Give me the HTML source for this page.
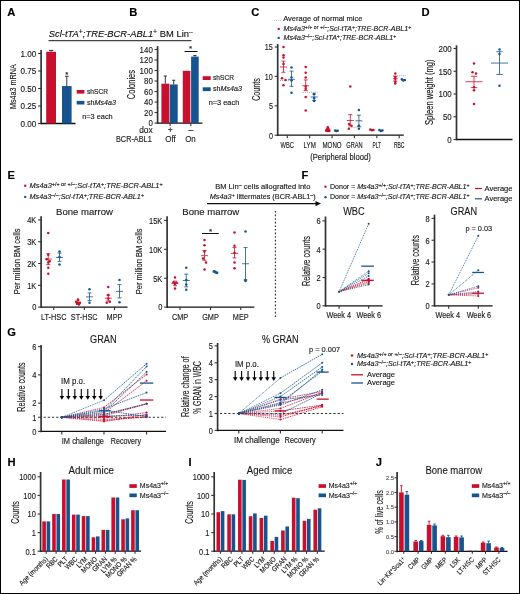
<!DOCTYPE html>
<html><head><meta charset="utf-8"><style>
html,body{margin:0;padding:0;background:#fff;}
svg{display:block;will-change:transform;}
text{font-family:"Liberation Sans", sans-serif;stroke-width:0.14px;}
</style></head><body>
<svg width="520" height="594" viewBox="0 0 520 594" font-family='"Liberation Sans", sans-serif' fill="#1a1a1a">
<rect x="0" y="0" width="520" height="594" fill="#fff"/>
<text x="7.20" y="15.70" font-size="11.2" font-weight="bold" fill="#000" stroke="#000">A</text>
<text x="48.80" y="36.60" font-size="9.9" textLength="144.00" lengthAdjust="spacingAndGlyphs" fill="#111" stroke="#111"><tspan font-style="italic">Scl-tTA</tspan><tspan baseline-shift="42%" font-size="74%">+</tspan><tspan font-style="italic">;TRE-BCR-ABL1</tspan><tspan baseline-shift="42%" font-size="74%">+</tspan> BM Lin<tspan baseline-shift="42%" font-size="74%">–</tspan></text>
<line x1="48.50" y1="40.60" x2="191.50" y2="40.60" stroke="#444" stroke-width="1.2"/>
<line x1="41.10" y1="50.00" x2="41.10" y2="124.35" stroke="#333" stroke-width="1.7"/>
<line x1="38.10" y1="123.50" x2="41.10" y2="123.50" stroke="#333" stroke-width="1.1"/>
<text x="36.20" y="126.80" font-size="8.8" text-anchor="end" textLength="15.76" lengthAdjust="spacingAndGlyphs" stroke="#1a1a1a">0.00</text>
<line x1="38.10" y1="106.00" x2="41.10" y2="106.00" stroke="#333" stroke-width="1.1"/>
<text x="36.20" y="109.30" font-size="8.8" text-anchor="end" textLength="15.76" lengthAdjust="spacingAndGlyphs" stroke="#1a1a1a">0.25</text>
<line x1="38.10" y1="88.50" x2="41.10" y2="88.50" stroke="#333" stroke-width="1.1"/>
<text x="36.20" y="91.80" font-size="8.8" text-anchor="end" textLength="15.76" lengthAdjust="spacingAndGlyphs" stroke="#1a1a1a">0.50</text>
<line x1="38.10" y1="71.00" x2="41.10" y2="71.00" stroke="#333" stroke-width="1.1"/>
<text x="36.20" y="74.30" font-size="8.8" text-anchor="end" textLength="15.76" lengthAdjust="spacingAndGlyphs" stroke="#1a1a1a">0.75</text>
<line x1="38.10" y1="53.50" x2="41.10" y2="53.50" stroke="#333" stroke-width="1.1"/>
<text x="36.20" y="56.80" font-size="8.8" text-anchor="end" textLength="15.76" lengthAdjust="spacingAndGlyphs" stroke="#1a1a1a">1.00</text>
<line x1="41.10" y1="123.50" x2="75.50" y2="123.50" stroke="#111" stroke-width="1.3"/>
<rect x="46.20" y="51.75" width="9.80" height="71.75" fill="#c8102e"/>
<line x1="51.10" y1="50.35" x2="51.10" y2="51.75" stroke="#333" stroke-width="1"/>
<line x1="48.90" y1="50.35" x2="53.30" y2="50.35" stroke="#333" stroke-width="1"/>
<rect x="62.00" y="86.05" width="9.60" height="37.45" fill="#17548f"/>
<line x1="66.80" y1="76.25" x2="66.80" y2="86.05" stroke="#333" stroke-width="1"/>
<line x1="65.00" y1="76.25" x2="68.60" y2="76.25" stroke="#333" stroke-width="1"/>
<text x="66.80" y="76.60" font-size="8" text-anchor="middle" stroke="#1a1a1a">*</text>
<rect x="76.70" y="90.00" width="7.70" height="3.60" fill="#c8102e"/>
<text x="87.00" y="93.80" font-size="6.8" textLength="21.10" lengthAdjust="spacingAndGlyphs" stroke="#1a1a1a">shSCR</text>
<rect x="76.70" y="100.90" width="7.70" height="3.60" fill="#17548f"/>
<text x="87.00" y="104.70" font-size="6.8" textLength="29.00" lengthAdjust="spacingAndGlyphs" stroke="#1a1a1a">sh<tspan font-style="italic">Ms4a3</tspan></text>
<text x="82.20" y="118.80" font-size="6.8" textLength="30.50" lengthAdjust="spacingAndGlyphs" stroke="#1a1a1a">n=3 each</text>
<text x="15.60" y="86.60" font-size="9.4" text-anchor="middle" textLength="44.80" lengthAdjust="spacingAndGlyphs" stroke="#1a1a1a" transform="rotate(-90 15.60 86.60)">Ms4a3 mRNA</text>
<text x="129.30" y="15.70" font-size="11.2" font-weight="bold" fill="#000" stroke="#000">B</text>
<line x1="157.60" y1="46.10" x2="157.60" y2="123.95" stroke="#333" stroke-width="1.7"/>
<line x1="154.60" y1="123.10" x2="157.60" y2="123.10" stroke="#333" stroke-width="1.1"/>
<text x="152.80" y="126.40" font-size="8.8" text-anchor="end" textLength="4.40" lengthAdjust="spacingAndGlyphs" stroke="#1a1a1a">0</text>
<line x1="154.60" y1="112.59" x2="157.60" y2="112.59" stroke="#333" stroke-width="1.1"/>
<text x="152.80" y="115.89" font-size="8.8" text-anchor="end" textLength="8.81" lengthAdjust="spacingAndGlyphs" stroke="#1a1a1a">20</text>
<line x1="154.60" y1="102.07" x2="157.60" y2="102.07" stroke="#333" stroke-width="1.1"/>
<text x="152.80" y="105.37" font-size="8.8" text-anchor="end" textLength="8.81" lengthAdjust="spacingAndGlyphs" stroke="#1a1a1a">40</text>
<line x1="154.60" y1="91.56" x2="157.60" y2="91.56" stroke="#333" stroke-width="1.1"/>
<text x="152.80" y="94.86" font-size="8.8" text-anchor="end" textLength="8.81" lengthAdjust="spacingAndGlyphs" stroke="#1a1a1a">60</text>
<line x1="154.60" y1="81.04" x2="157.60" y2="81.04" stroke="#333" stroke-width="1.1"/>
<text x="152.80" y="84.34" font-size="8.8" text-anchor="end" textLength="8.81" lengthAdjust="spacingAndGlyphs" stroke="#1a1a1a">80</text>
<line x1="154.60" y1="70.53" x2="157.60" y2="70.53" stroke="#333" stroke-width="1.1"/>
<text x="152.80" y="73.83" font-size="8.8" text-anchor="end" textLength="13.21" lengthAdjust="spacingAndGlyphs" stroke="#1a1a1a">100</text>
<line x1="154.60" y1="60.02" x2="157.60" y2="60.02" stroke="#333" stroke-width="1.1"/>
<text x="152.80" y="63.32" font-size="8.8" text-anchor="end" textLength="13.21" lengthAdjust="spacingAndGlyphs" stroke="#1a1a1a">120</text>
<line x1="154.60" y1="49.50" x2="157.60" y2="49.50" stroke="#333" stroke-width="1.1"/>
<text x="152.80" y="52.80" font-size="8.8" text-anchor="end" textLength="13.21" lengthAdjust="spacingAndGlyphs" stroke="#1a1a1a">140</text>
<line x1="157.60" y1="123.10" x2="202.40" y2="123.10" stroke="#111" stroke-width="1.3"/>
<line x1="170.10" y1="123.10" x2="170.10" y2="126.10" stroke="#333" stroke-width="1.1"/>
<line x1="190.80" y1="123.10" x2="190.80" y2="126.10" stroke="#333" stroke-width="1.1"/>
<rect x="161.40" y="83.67" width="7.90" height="39.43" fill="#c8102e"/>
<line x1="165.30" y1="76.05" x2="165.30" y2="83.67" stroke="#333" stroke-width="1"/>
<line x1="163.70" y1="76.05" x2="166.90" y2="76.05" stroke="#333" stroke-width="1"/>
<rect x="169.80" y="84.46" width="7.90" height="38.64" fill="#17548f"/>
<line x1="173.70" y1="80.26" x2="173.70" y2="84.46" stroke="#333" stroke-width="1"/>
<line x1="172.10" y1="80.26" x2="175.30" y2="80.26" stroke="#333" stroke-width="1"/>
<rect x="182.80" y="70.79" width="7.60" height="52.31" fill="#c8102e"/>
<rect x="191.10" y="56.60" width="7.60" height="66.50" fill="#17548f"/>
<line x1="194.90" y1="55.55" x2="194.90" y2="56.60" stroke="#333" stroke-width="1"/>
<line x1="193.30" y1="55.55" x2="196.50" y2="55.55" stroke="#333" stroke-width="1"/>
<line x1="184.50" y1="51.50" x2="197.50" y2="51.50" stroke="#111" stroke-width="1"/>
<text x="190.50" y="51.20" font-size="8" text-anchor="middle" stroke="#1a1a1a">*</text>
<rect x="202.70" y="76.20" width="8.00" height="3.80" fill="#c8102e"/>
<text x="213.00" y="80.00" font-size="6.8" textLength="21.10" lengthAdjust="spacingAndGlyphs" stroke="#1a1a1a">shSCR</text>
<rect x="202.70" y="87.30" width="8.00" height="3.80" fill="#17548f"/>
<text x="213.00" y="90.80" font-size="6.8" textLength="29.00" lengthAdjust="spacingAndGlyphs" stroke="#1a1a1a">sh<tspan font-style="italic">Ms4a3</tspan></text>
<text x="208.70" y="104.80" font-size="6.8" textLength="30.60" lengthAdjust="spacingAndGlyphs" stroke="#1a1a1a">n=3 each</text>
<text x="135.40" y="84.60" font-size="10.5" text-anchor="middle" textLength="29.10" lengthAdjust="spacingAndGlyphs" stroke="#1a1a1a" transform="rotate(-90 135.40 84.60)">Colonies</text>
<text x="152.70" y="132.60" font-size="8.6" text-anchor="end" textLength="13.50" lengthAdjust="spacingAndGlyphs" stroke="#1a1a1a">dox</text>
<text x="170.20" y="132.60" font-size="8.6" text-anchor="middle" stroke="#1a1a1a">+</text>
<text x="190.80" y="132.60" font-size="8.6" text-anchor="middle" stroke="#1a1a1a">–</text>
<text x="151.70" y="142.30" font-size="8.4" text-anchor="end" textLength="35.70" lengthAdjust="spacingAndGlyphs" stroke="#1a1a1a">BCR-ABL1</text>
<text x="170.50" y="142.30" font-size="8.6" text-anchor="middle" textLength="10.50" lengthAdjust="spacingAndGlyphs" stroke="#1a1a1a">Off</text>
<text x="190.50" y="142.30" font-size="8.6" text-anchor="middle" textLength="10.50" lengthAdjust="spacingAndGlyphs" stroke="#1a1a1a">On</text>
<text x="251.30" y="15.70" font-size="11.2" font-weight="bold" fill="#000" stroke="#000">C</text>
<circle cx="274.30" cy="20.20" r="0.45" fill="#777"/>
<circle cx="276.30" cy="20.20" r="0.45" fill="#777"/>
<circle cx="278.30" cy="20.20" r="0.45" fill="#777"/>
<circle cx="280.30" cy="20.20" r="0.45" fill="#777"/>
<text x="283.20" y="21.20" font-size="7.4" textLength="79.30" lengthAdjust="spacingAndGlyphs" stroke="#1a1a1a">Average of normal mice</text>
<circle cx="278.70" cy="28.90" r="1.2" fill="#c8102e"/>
<text x="283.60" y="30.70" font-size="7.3" textLength="127.60" lengthAdjust="spacingAndGlyphs" stroke="#1a1a1a"><tspan font-style="italic">Ms4a3</tspan><tspan baseline-shift="42%" font-size="74%">+/+ or +/–</tspan><tspan font-style="italic">;Scl-tTA</tspan><tspan baseline-shift="42%" font-size="74%">+</tspan><tspan font-style="italic">;TRE-BCR-ABL1</tspan><tspan baseline-shift="42%" font-size="74%">+</tspan></text>
<circle cx="278.70" cy="37.90" r="1.2" fill="#17548f"/>
<text x="283.60" y="39.60" font-size="7.3" textLength="112.60" lengthAdjust="spacingAndGlyphs" stroke="#1a1a1a"><tspan font-style="italic">Ms4a3</tspan><tspan baseline-shift="42%" font-size="74%">–/–</tspan><tspan font-style="italic">;Scl-tTA</tspan><tspan baseline-shift="42%" font-size="74%">+</tspan><tspan font-style="italic">;TRE-BCR-ABL1</tspan><tspan baseline-shift="42%" font-size="74%">+</tspan></text>
<line x1="277.70" y1="44.00" x2="277.70" y2="136.05" stroke="#333" stroke-width="1.7"/>
<line x1="274.70" y1="135.20" x2="277.70" y2="135.20" stroke="#333" stroke-width="1.1"/>
<text x="272.90" y="138.50" font-size="8.8" text-anchor="end" textLength="4.01" lengthAdjust="spacingAndGlyphs" stroke="#1a1a1a">0</text>
<line x1="274.70" y1="105.80" x2="277.70" y2="105.80" stroke="#333" stroke-width="1.1"/>
<text x="272.90" y="109.10" font-size="8.8" text-anchor="end" textLength="4.01" lengthAdjust="spacingAndGlyphs" stroke="#1a1a1a">5</text>
<line x1="274.70" y1="76.40" x2="277.70" y2="76.40" stroke="#333" stroke-width="1.1"/>
<text x="272.90" y="79.70" font-size="8.8" text-anchor="end" textLength="8.03" lengthAdjust="spacingAndGlyphs" stroke="#1a1a1a">10</text>
<line x1="274.70" y1="47.00" x2="277.70" y2="47.00" stroke="#333" stroke-width="1.1"/>
<text x="272.90" y="50.30" font-size="8.8" text-anchor="end" textLength="8.03" lengthAdjust="spacingAndGlyphs" stroke="#1a1a1a">15</text>
<line x1="277.70" y1="135.20" x2="403.80" y2="135.20" stroke="#111" stroke-width="1.3"/>
<line x1="287.30" y1="135.20" x2="287.30" y2="138.20" stroke="#333" stroke-width="1.1"/>
<line x1="309.68" y1="135.20" x2="309.68" y2="138.20" stroke="#333" stroke-width="1.1"/>
<line x1="332.06" y1="135.20" x2="332.06" y2="138.20" stroke="#333" stroke-width="1.1"/>
<line x1="354.44" y1="135.20" x2="354.44" y2="138.20" stroke="#333" stroke-width="1.1"/>
<line x1="376.82" y1="135.20" x2="376.82" y2="138.20" stroke="#333" stroke-width="1.1"/>
<line x1="399.20" y1="135.20" x2="399.20" y2="138.20" stroke="#333" stroke-width="1.1"/>
<text x="287.30" y="147.70" font-size="8.4" text-anchor="middle" textLength="13.40" lengthAdjust="spacingAndGlyphs" stroke="#1a1a1a">WBC</text>
<text x="309.68" y="147.70" font-size="8.4" text-anchor="middle" textLength="12.20" lengthAdjust="spacingAndGlyphs" stroke="#1a1a1a">LYM</text>
<text x="332.06" y="147.70" font-size="8.4" text-anchor="middle" textLength="19.10" lengthAdjust="spacingAndGlyphs" stroke="#1a1a1a">MONO</text>
<text x="354.44" y="147.70" font-size="8.4" text-anchor="middle" textLength="16.50" lengthAdjust="spacingAndGlyphs" stroke="#1a1a1a">GRAN</text>
<text x="376.82" y="147.70" font-size="8.4" text-anchor="middle" textLength="8.50" lengthAdjust="spacingAndGlyphs" stroke="#1a1a1a">PLT</text>
<text x="399.20" y="147.70" font-size="8.4" text-anchor="middle" textLength="10.60" lengthAdjust="spacingAndGlyphs" stroke="#1a1a1a">RBC</text>
<text x="259.60" y="89.50" font-size="10" text-anchor="middle" textLength="22.70" lengthAdjust="spacingAndGlyphs" stroke="#1a1a1a" transform="rotate(-90 259.60 89.50)">Counts</text>
<text x="340.50" y="159.50" font-size="8.4" text-anchor="middle" textLength="60.70" lengthAdjust="spacingAndGlyphs" stroke="#1a1a1a">(Peripheral blood)</text>
<line x1="280.00" y1="80.52" x2="293.60" y2="80.52" stroke="#999" stroke-width="0.9" stroke-dasharray="1,1"/>
<line x1="302.80" y1="92.28" x2="317.60" y2="92.28" stroke="#999" stroke-width="0.9" stroke-dasharray="1,1"/>
<line x1="348.50" y1="127.26" x2="361.50" y2="127.26" stroke="#999" stroke-width="0.9" stroke-dasharray="1,1"/>
<line x1="392.70" y1="75.81" x2="406.50" y2="75.81" stroke="#999" stroke-width="0.9" stroke-dasharray="1,1"/>
<circle cx="283.50" cy="47.00" r="1.25" fill="#c8102e"/>
<circle cx="283.50" cy="55.23" r="1.25" fill="#c8102e"/>
<circle cx="283.50" cy="57.58" r="1.25" fill="#c8102e"/>
<circle cx="283.50" cy="64.05" r="1.25" fill="#c8102e"/>
<circle cx="282.00" cy="78.16" r="1.25" fill="#c8102e"/>
<circle cx="285.50" cy="79.93" r="1.25" fill="#c8102e"/>
<circle cx="283.50" cy="85.22" r="1.25" fill="#c8102e"/>
<line x1="280.00" y1="66.99" x2="287.00" y2="66.99" stroke="#c8102e" stroke-width="0.8"/>
<line x1="283.50" y1="61.11" x2="283.50" y2="72.28" stroke="#c8102e" stroke-width="0.8"/>
<line x1="281.50" y1="61.11" x2="285.50" y2="61.11" stroke="#c8102e" stroke-width="0.8"/>
<line x1="281.50" y1="72.28" x2="285.50" y2="72.28" stroke="#c8102e" stroke-width="0.8"/>
<circle cx="291.50" cy="67.58" r="1.25" fill="#17548f"/>
<circle cx="291.50" cy="77.58" r="1.25" fill="#17548f"/>
<circle cx="291.50" cy="80.52" r="1.25" fill="#17548f"/>
<circle cx="291.50" cy="92.86" r="1.25" fill="#17548f"/>
<line x1="288.00" y1="79.34" x2="295.00" y2="79.34" stroke="#17548f" stroke-width="0.8"/>
<line x1="291.50" y1="71.11" x2="291.50" y2="86.40" stroke="#17548f" stroke-width="0.8"/>
<line x1="289.50" y1="71.11" x2="293.50" y2="71.11" stroke="#17548f" stroke-width="0.8"/>
<line x1="289.50" y1="86.40" x2="293.50" y2="86.40" stroke="#17548f" stroke-width="0.8"/>
<circle cx="305.70" cy="66.99" r="1.25" fill="#c8102e"/>
<circle cx="305.70" cy="72.87" r="1.25" fill="#c8102e"/>
<circle cx="305.70" cy="77.58" r="1.25" fill="#c8102e"/>
<circle cx="305.70" cy="86.40" r="1.25" fill="#c8102e"/>
<circle cx="305.70" cy="88.75" r="1.25" fill="#c8102e"/>
<circle cx="305.70" cy="96.98" r="1.25" fill="#c8102e"/>
<circle cx="305.70" cy="110.50" r="1.25" fill="#c8102e"/>
<line x1="302.20" y1="85.81" x2="309.20" y2="85.81" stroke="#c8102e" stroke-width="0.8"/>
<line x1="305.70" y1="79.93" x2="305.70" y2="90.51" stroke="#c8102e" stroke-width="0.8"/>
<line x1="303.70" y1="79.93" x2="307.70" y2="79.93" stroke="#c8102e" stroke-width="0.8"/>
<line x1="303.70" y1="90.51" x2="307.70" y2="90.51" stroke="#c8102e" stroke-width="0.8"/>
<circle cx="314.10" cy="94.04" r="1.25" fill="#17548f"/>
<circle cx="314.10" cy="98.16" r="1.25" fill="#17548f"/>
<circle cx="314.10" cy="101.10" r="1.25" fill="#17548f"/>
<line x1="310.60" y1="96.98" x2="317.60" y2="96.98" stroke="#17548f" stroke-width="0.8"/>
<line x1="314.10" y1="94.04" x2="314.10" y2="100.51" stroke="#17548f" stroke-width="0.8"/>
<line x1="312.10" y1="94.04" x2="316.10" y2="94.04" stroke="#17548f" stroke-width="0.8"/>
<line x1="312.10" y1="100.51" x2="316.10" y2="100.51" stroke="#17548f" stroke-width="0.8"/>
<circle cx="327.80" cy="127.26" r="1.25" fill="#c8102e"/>
<circle cx="327.00" cy="129.32" r="1.25" fill="#c8102e"/>
<circle cx="326.20" cy="130.79" r="1.25" fill="#c8102e"/>
<circle cx="327.80" cy="131.08" r="1.25" fill="#c8102e"/>
<circle cx="329.40" cy="130.97" r="1.25" fill="#c8102e"/>
<circle cx="328.60" cy="129.32" r="1.25" fill="#c8102e"/>
<line x1="325.30" y1="130.20" x2="330.30" y2="130.20" stroke="#c8102e" stroke-width="0.8"/>
<circle cx="335.20" cy="130.50" r="1.25" fill="#17548f"/>
<circle cx="336.40" cy="131.08" r="1.25" fill="#17548f"/>
<circle cx="337.60" cy="130.79" r="1.25" fill="#17548f"/>
<line x1="333.90" y1="130.79" x2="338.90" y2="130.79" stroke="#17548f" stroke-width="0.8"/>
<circle cx="350.30" cy="86.40" r="1.25" fill="#c8102e"/>
<circle cx="349.10" cy="124.03" r="1.25" fill="#c8102e"/>
<circle cx="351.50" cy="125.79" r="1.25" fill="#c8102e"/>
<circle cx="348.80" cy="128.73" r="1.25" fill="#c8102e"/>
<line x1="346.80" y1="120.50" x2="353.80" y2="120.50" stroke="#c8102e" stroke-width="0.8"/>
<line x1="350.30" y1="114.62" x2="350.30" y2="125.79" stroke="#c8102e" stroke-width="0.8"/>
<line x1="348.30" y1="114.62" x2="352.30" y2="114.62" stroke="#c8102e" stroke-width="0.8"/>
<line x1="348.30" y1="125.79" x2="352.30" y2="125.79" stroke="#c8102e" stroke-width="0.8"/>
<circle cx="358.90" cy="109.92" r="1.25" fill="#17548f"/>
<circle cx="358.90" cy="125.79" r="1.25" fill="#17548f"/>
<circle cx="358.90" cy="128.73" r="1.25" fill="#17548f"/>
<line x1="355.40" y1="120.79" x2="362.40" y2="120.79" stroke="#17548f" stroke-width="0.8"/>
<line x1="358.90" y1="115.21" x2="358.90" y2="126.38" stroke="#17548f" stroke-width="0.8"/>
<line x1="356.90" y1="115.21" x2="360.90" y2="115.21" stroke="#17548f" stroke-width="0.8"/>
<line x1="356.90" y1="126.38" x2="360.90" y2="126.38" stroke="#17548f" stroke-width="0.8"/>
<circle cx="370.40" cy="129.61" r="1.25" fill="#c8102e"/>
<circle cx="371.90" cy="130.20" r="1.25" fill="#c8102e"/>
<circle cx="373.40" cy="129.91" r="1.25" fill="#c8102e"/>
<line x1="369.40" y1="129.91" x2="374.40" y2="129.91" stroke="#c8102e" stroke-width="0.8"/>
<circle cx="379.40" cy="129.91" r="1.25" fill="#17548f"/>
<circle cx="380.90" cy="131.08" r="1.25" fill="#17548f"/>
<circle cx="382.40" cy="130.50" r="1.25" fill="#17548f"/>
<line x1="378.40" y1="130.20" x2="383.40" y2="130.20" stroke="#17548f" stroke-width="0.8"/>
<circle cx="395.30" cy="73.46" r="1.25" fill="#c8102e"/>
<circle cx="395.30" cy="76.99" r="1.25" fill="#c8102e"/>
<circle cx="395.30" cy="78.75" r="1.25" fill="#c8102e"/>
<circle cx="395.30" cy="81.69" r="1.25" fill="#c8102e"/>
<circle cx="395.30" cy="83.46" r="1.25" fill="#c8102e"/>
<line x1="392.80" y1="78.75" x2="397.80" y2="78.75" stroke="#c8102e" stroke-width="0.8"/>
<line x1="395.30" y1="76.40" x2="395.30" y2="81.10" stroke="#c8102e" stroke-width="0.8"/>
<line x1="393.30" y1="76.40" x2="397.30" y2="76.40" stroke="#c8102e" stroke-width="0.8"/>
<line x1="393.30" y1="81.10" x2="397.30" y2="81.10" stroke="#c8102e" stroke-width="0.8"/>
<circle cx="401.90" cy="79.34" r="1.25" fill="#17548f"/>
<circle cx="403.40" cy="80.52" r="1.25" fill="#17548f"/>
<circle cx="404.90" cy="79.93" r="1.25" fill="#17548f"/>
<line x1="400.90" y1="79.93" x2="405.90" y2="79.93" stroke="#17548f" stroke-width="0.8"/>
<text x="421.50" y="15.70" font-size="11.2" font-weight="bold" fill="#000" stroke="#000">D</text>
<line x1="456.50" y1="45.30" x2="456.50" y2="140.35" stroke="#333" stroke-width="1.7"/>
<line x1="453.50" y1="139.50" x2="456.50" y2="139.50" stroke="#333" stroke-width="1.1"/>
<text x="451.70" y="142.80" font-size="8.8" text-anchor="end" textLength="4.40" lengthAdjust="spacingAndGlyphs" stroke="#1a1a1a">0</text>
<line x1="453.50" y1="116.75" x2="456.50" y2="116.75" stroke="#333" stroke-width="1.1"/>
<text x="451.70" y="120.05" font-size="8.8" text-anchor="end" textLength="8.81" lengthAdjust="spacingAndGlyphs" stroke="#1a1a1a">50</text>
<line x1="453.50" y1="94.00" x2="456.50" y2="94.00" stroke="#333" stroke-width="1.1"/>
<text x="451.70" y="97.30" font-size="8.8" text-anchor="end" textLength="13.21" lengthAdjust="spacingAndGlyphs" stroke="#1a1a1a">100</text>
<line x1="453.50" y1="71.25" x2="456.50" y2="71.25" stroke="#333" stroke-width="1.1"/>
<text x="451.70" y="74.55" font-size="8.8" text-anchor="end" textLength="13.21" lengthAdjust="spacingAndGlyphs" stroke="#1a1a1a">150</text>
<line x1="453.50" y1="48.50" x2="456.50" y2="48.50" stroke="#333" stroke-width="1.1"/>
<text x="451.70" y="51.80" font-size="8.8" text-anchor="end" textLength="13.21" lengthAdjust="spacingAndGlyphs" stroke="#1a1a1a">200</text>
<line x1="456.50" y1="139.50" x2="512.50" y2="139.50" stroke="#111" stroke-width="1.3"/>
<circle cx="474.00" cy="63.52" r="1.25" fill="#c8102e"/>
<circle cx="472.50" cy="72.16" r="1.25" fill="#c8102e"/>
<circle cx="476.00" cy="73.52" r="1.25" fill="#c8102e"/>
<circle cx="474.00" cy="87.17" r="1.25" fill="#c8102e"/>
<circle cx="474.00" cy="90.36" r="1.25" fill="#c8102e"/>
<circle cx="474.00" cy="104.01" r="1.25" fill="#c8102e"/>
<line x1="465.50" y1="81.72" x2="482.50" y2="81.72" stroke="#c8102e" stroke-width="0.8"/>
<line x1="474.00" y1="76.25" x2="474.00" y2="87.63" stroke="#c8102e" stroke-width="0.8"/>
<line x1="470.80" y1="76.25" x2="477.20" y2="76.25" stroke="#c8102e" stroke-width="0.8"/>
<line x1="470.80" y1="87.63" x2="477.20" y2="87.63" stroke="#c8102e" stroke-width="0.8"/>
<circle cx="499.50" cy="49.41" r="1.25" fill="#17548f"/>
<circle cx="499.50" cy="53.96" r="1.25" fill="#17548f"/>
<circle cx="499.50" cy="85.81" r="1.25" fill="#17548f"/>
<line x1="491.00" y1="63.06" x2="508.00" y2="63.06" stroke="#17548f" stroke-width="0.8"/>
<line x1="499.50" y1="51.69" x2="499.50" y2="74.44" stroke="#17548f" stroke-width="0.8"/>
<line x1="496.30" y1="51.69" x2="502.70" y2="51.69" stroke="#17548f" stroke-width="0.8"/>
<line x1="496.30" y1="74.44" x2="502.70" y2="74.44" stroke="#17548f" stroke-width="0.8"/>
<text x="433.40" y="92.20" font-size="10" text-anchor="middle" textLength="65.50" lengthAdjust="spacingAndGlyphs" stroke="#1a1a1a" transform="rotate(-90 433.40 92.20)">Spleen weight (mg)</text>
<text x="7.50" y="179.40" font-size="11.2" font-weight="bold" fill="#000" stroke="#000">E</text>
<circle cx="25.20" cy="185.80" r="1.2" fill="#c8102e"/>
<text x="29.60" y="188.40" font-size="7.3" textLength="133.00" lengthAdjust="spacingAndGlyphs" stroke="#1a1a1a"><tspan font-style="italic">Ms4a3</tspan><tspan baseline-shift="42%" font-size="74%">+/+ or +/–</tspan><tspan font-style="italic">;Scl-tTA</tspan><tspan baseline-shift="42%" font-size="74%">+</tspan><tspan font-style="italic">;TRE-BCR-ABL1</tspan><tspan baseline-shift="42%" font-size="74%">+</tspan></text>
<circle cx="25.20" cy="196.90" r="1.2" fill="#17548f"/>
<text x="29.60" y="199.40" font-size="7.3" textLength="114.40" lengthAdjust="spacingAndGlyphs" stroke="#1a1a1a"><tspan font-style="italic">Ms4a3</tspan><tspan baseline-shift="42%" font-size="74%">–/–</tspan><tspan font-style="italic">;Scl-tTA</tspan><tspan baseline-shift="42%" font-size="74%">+</tspan><tspan font-style="italic">;TRE-BCR-ABL1</tspan><tspan baseline-shift="42%" font-size="74%">+</tspan></text>
<text x="84.50" y="215.00" font-size="9.8" text-anchor="middle" textLength="56.90" lengthAdjust="spacingAndGlyphs" stroke="#1a1a1a">Bone marrow</text>
<text x="210.80" y="215.00" font-size="9.8" text-anchor="middle" textLength="56.90" lengthAdjust="spacingAndGlyphs" stroke="#1a1a1a">Bone marrow</text>
<line x1="41.10" y1="216.30" x2="41.10" y2="307.95" stroke="#333" stroke-width="1.7"/>
<line x1="38.10" y1="307.10" x2="41.10" y2="307.10" stroke="#333" stroke-width="1.1"/>
<text x="36.30" y="310.40" font-size="8.8" text-anchor="end" textLength="4.16" lengthAdjust="spacingAndGlyphs" stroke="#1a1a1a">0</text>
<line x1="38.10" y1="285.30" x2="41.10" y2="285.30" stroke="#333" stroke-width="1.1"/>
<text x="36.30" y="288.60" font-size="8.8" text-anchor="end" textLength="9.15" lengthAdjust="spacingAndGlyphs" stroke="#1a1a1a">1K</text>
<line x1="38.10" y1="263.50" x2="41.10" y2="263.50" stroke="#333" stroke-width="1.1"/>
<text x="36.30" y="266.80" font-size="8.8" text-anchor="end" textLength="9.15" lengthAdjust="spacingAndGlyphs" stroke="#1a1a1a">2K</text>
<line x1="38.10" y1="241.70" x2="41.10" y2="241.70" stroke="#333" stroke-width="1.1"/>
<text x="36.30" y="245.00" font-size="8.8" text-anchor="end" textLength="9.15" lengthAdjust="spacingAndGlyphs" stroke="#1a1a1a">3K</text>
<line x1="38.10" y1="219.90" x2="41.10" y2="219.90" stroke="#333" stroke-width="1.1"/>
<text x="36.30" y="223.20" font-size="8.8" text-anchor="end" textLength="9.15" lengthAdjust="spacingAndGlyphs" stroke="#1a1a1a">4K</text>
<line x1="41.10" y1="307.10" x2="127.50" y2="307.10" stroke="#111" stroke-width="1.3"/>
<line x1="53.75" y1="307.10" x2="53.75" y2="310.10" stroke="#333" stroke-width="1.1"/>
<line x1="84.25" y1="307.10" x2="84.25" y2="310.10" stroke="#333" stroke-width="1.1"/>
<line x1="114.50" y1="307.10" x2="114.50" y2="310.10" stroke="#333" stroke-width="1.1"/>
<text x="53.75" y="319.60" font-size="8.3" text-anchor="middle" textLength="25.43" lengthAdjust="spacingAndGlyphs" stroke="#1a1a1a">LT-HSC</text>
<text x="84.25" y="319.60" font-size="8.3" text-anchor="middle" textLength="26.78" lengthAdjust="spacingAndGlyphs" stroke="#1a1a1a">ST-HSC</text>
<text x="114.50" y="319.60" font-size="8.3" text-anchor="middle" textLength="15.83" lengthAdjust="spacingAndGlyphs" stroke="#1a1a1a">MPP</text>
<text x="20.40" y="261.40" font-size="9.4" text-anchor="middle" textLength="65.60" lengthAdjust="spacingAndGlyphs" stroke="#1a1a1a" transform="rotate(-90 20.40 261.40)">Per million BM cells</text>
<circle cx="48.25" cy="232.98" r="1.25" fill="#c8102e"/>
<circle cx="48.25" cy="254.78" r="1.25" fill="#c8102e"/>
<circle cx="46.75" cy="259.14" r="1.25" fill="#c8102e"/>
<circle cx="49.75" cy="261.32" r="1.25" fill="#c8102e"/>
<circle cx="48.25" cy="262.41" r="1.25" fill="#c8102e"/>
<circle cx="48.25" cy="267.86" r="1.25" fill="#c8102e"/>
<circle cx="48.25" cy="273.75" r="1.25" fill="#c8102e"/>
<line x1="44.75" y1="259.14" x2="51.75" y2="259.14" stroke="#c8102e" stroke-width="0.8"/>
<line x1="48.25" y1="253.69" x2="48.25" y2="264.59" stroke="#c8102e" stroke-width="0.8"/>
<line x1="46.25" y1="253.69" x2="50.25" y2="253.69" stroke="#c8102e" stroke-width="0.8"/>
<line x1="46.25" y1="264.59" x2="50.25" y2="264.59" stroke="#c8102e" stroke-width="0.8"/>
<circle cx="59.50" cy="251.51" r="1.25" fill="#17548f"/>
<circle cx="59.50" cy="256.96" r="1.25" fill="#17548f"/>
<circle cx="59.50" cy="264.59" r="1.25" fill="#17548f"/>
<line x1="56.00" y1="257.40" x2="63.00" y2="257.40" stroke="#17548f" stroke-width="0.8"/>
<line x1="59.50" y1="253.04" x2="59.50" y2="261.32" stroke="#17548f" stroke-width="0.8"/>
<line x1="57.50" y1="253.04" x2="61.50" y2="253.04" stroke="#17548f" stroke-width="0.8"/>
<line x1="57.50" y1="261.32" x2="61.50" y2="261.32" stroke="#17548f" stroke-width="0.8"/>
<circle cx="78.00" cy="299.47" r="1.25" fill="#c8102e"/>
<circle cx="76.00" cy="301.65" r="1.25" fill="#c8102e"/>
<circle cx="80.00" cy="302.74" r="1.25" fill="#c8102e"/>
<circle cx="77.00" cy="303.83" r="1.25" fill="#c8102e"/>
<circle cx="79.00" cy="304.48" r="1.25" fill="#c8102e"/>
<circle cx="78.00" cy="303.18" r="1.25" fill="#c8102e"/>
<circle cx="78.00" cy="300.56" r="1.25" fill="#c8102e"/>
<line x1="75.50" y1="302.74" x2="80.50" y2="302.74" stroke="#c8102e" stroke-width="0.8"/>
<circle cx="89.50" cy="289.22" r="1.25" fill="#17548f"/>
<circle cx="89.50" cy="302.74" r="1.25" fill="#17548f"/>
<line x1="86.00" y1="296.85" x2="93.00" y2="296.85" stroke="#17548f" stroke-width="0.8"/>
<line x1="89.50" y1="292.93" x2="89.50" y2="300.56" stroke="#17548f" stroke-width="0.8"/>
<line x1="87.50" y1="292.93" x2="91.50" y2="292.93" stroke="#17548f" stroke-width="0.8"/>
<line x1="87.50" y1="300.56" x2="91.50" y2="300.56" stroke="#17548f" stroke-width="0.8"/>
<circle cx="108.25" cy="287.04" r="1.25" fill="#c8102e"/>
<circle cx="108.25" cy="295.11" r="1.25" fill="#c8102e"/>
<circle cx="108.25" cy="298.38" r="1.25" fill="#c8102e"/>
<circle cx="106.75" cy="302.74" r="1.25" fill="#c8102e"/>
<circle cx="109.75" cy="301.65" r="1.25" fill="#c8102e"/>
<line x1="104.75" y1="298.16" x2="111.75" y2="298.16" stroke="#c8102e" stroke-width="0.8"/>
<line x1="108.25" y1="295.11" x2="108.25" y2="301.00" stroke="#c8102e" stroke-width="0.8"/>
<line x1="106.25" y1="295.11" x2="110.25" y2="295.11" stroke="#c8102e" stroke-width="0.8"/>
<line x1="106.25" y1="301.00" x2="110.25" y2="301.00" stroke="#c8102e" stroke-width="0.8"/>
<circle cx="119.50" cy="280.07" r="1.25" fill="#17548f"/>
<circle cx="119.50" cy="302.30" r="1.25" fill="#17548f"/>
<line x1="116.00" y1="291.40" x2="123.00" y2="291.40" stroke="#17548f" stroke-width="0.8"/>
<line x1="119.50" y1="284.65" x2="119.50" y2="297.94" stroke="#17548f" stroke-width="0.8"/>
<line x1="117.50" y1="284.65" x2="121.50" y2="284.65" stroke="#17548f" stroke-width="0.8"/>
<line x1="117.50" y1="297.94" x2="121.50" y2="297.94" stroke="#17548f" stroke-width="0.8"/>
<line x1="167.10" y1="216.30" x2="167.10" y2="307.95" stroke="#333" stroke-width="1.7"/>
<line x1="164.10" y1="307.10" x2="167.10" y2="307.10" stroke="#333" stroke-width="1.1"/>
<text x="162.30" y="310.40" font-size="8.8" text-anchor="end" textLength="4.16" lengthAdjust="spacingAndGlyphs" stroke="#1a1a1a">0</text>
<line x1="164.10" y1="278.20" x2="167.10" y2="278.20" stroke="#333" stroke-width="1.1"/>
<text x="162.30" y="281.50" font-size="8.8" text-anchor="end" textLength="9.15" lengthAdjust="spacingAndGlyphs" stroke="#1a1a1a">5K</text>
<line x1="164.10" y1="249.30" x2="167.10" y2="249.30" stroke="#333" stroke-width="1.1"/>
<text x="162.30" y="252.60" font-size="8.8" text-anchor="end" textLength="13.31" lengthAdjust="spacingAndGlyphs" stroke="#1a1a1a">10K</text>
<line x1="164.10" y1="220.40" x2="167.10" y2="220.40" stroke="#333" stroke-width="1.1"/>
<text x="162.30" y="223.70" font-size="8.8" text-anchor="end" textLength="13.31" lengthAdjust="spacingAndGlyphs" stroke="#1a1a1a">15K</text>
<line x1="167.10" y1="307.10" x2="254.30" y2="307.10" stroke="#111" stroke-width="1.3"/>
<line x1="180.00" y1="307.10" x2="180.00" y2="310.10" stroke="#333" stroke-width="1.1"/>
<line x1="210.50" y1="307.10" x2="210.50" y2="310.10" stroke="#333" stroke-width="1.1"/>
<line x1="240.75" y1="307.10" x2="240.75" y2="310.10" stroke="#333" stroke-width="1.1"/>
<text x="180.00" y="319.60" font-size="8.3" text-anchor="middle" textLength="16.23" lengthAdjust="spacingAndGlyphs" stroke="#1a1a1a">CMP</text>
<text x="210.50" y="319.60" font-size="8.3" text-anchor="middle" textLength="16.64" lengthAdjust="spacingAndGlyphs" stroke="#1a1a1a">GMP</text>
<text x="240.75" y="319.60" font-size="8.3" text-anchor="middle" textLength="15.83" lengthAdjust="spacingAndGlyphs" stroke="#1a1a1a">MEP</text>
<text x="142.20" y="261.40" font-size="9.4" text-anchor="middle" textLength="65.60" lengthAdjust="spacingAndGlyphs" stroke="#1a1a1a" transform="rotate(-90 142.20 261.40)">Per million BM cells</text>
<circle cx="175.00" cy="277.62" r="1.25" fill="#c8102e"/>
<circle cx="173.50" cy="282.25" r="1.25" fill="#c8102e"/>
<circle cx="176.50" cy="282.82" r="1.25" fill="#c8102e"/>
<circle cx="175.00" cy="283.98" r="1.25" fill="#c8102e"/>
<circle cx="175.00" cy="288.60" r="1.25" fill="#c8102e"/>
<line x1="171.50" y1="283.40" x2="178.50" y2="283.40" stroke="#c8102e" stroke-width="0.8"/>
<line x1="175.00" y1="281.09" x2="175.00" y2="285.71" stroke="#c8102e" stroke-width="0.8"/>
<line x1="173.00" y1="281.09" x2="177.00" y2="281.09" stroke="#c8102e" stroke-width="0.8"/>
<line x1="173.00" y1="285.71" x2="177.00" y2="285.71" stroke="#c8102e" stroke-width="0.8"/>
<circle cx="186.25" cy="267.80" r="1.25" fill="#17548f"/>
<circle cx="186.25" cy="279.93" r="1.25" fill="#17548f"/>
<circle cx="186.25" cy="284.56" r="1.25" fill="#17548f"/>
<circle cx="186.25" cy="289.76" r="1.25" fill="#17548f"/>
<line x1="182.75" y1="280.51" x2="189.75" y2="280.51" stroke="#17548f" stroke-width="0.8"/>
<line x1="186.25" y1="274.15" x2="186.25" y2="286.87" stroke="#17548f" stroke-width="0.8"/>
<line x1="184.25" y1="274.15" x2="188.25" y2="274.15" stroke="#17548f" stroke-width="0.8"/>
<line x1="184.25" y1="286.87" x2="188.25" y2="286.87" stroke="#17548f" stroke-width="0.8"/>
<circle cx="204.50" cy="240.05" r="1.25" fill="#c8102e"/>
<circle cx="204.50" cy="245.25" r="1.25" fill="#c8102e"/>
<circle cx="204.50" cy="251.61" r="1.25" fill="#c8102e"/>
<circle cx="203.00" cy="258.55" r="1.25" fill="#c8102e"/>
<circle cx="206.00" cy="262.59" r="1.25" fill="#c8102e"/>
<circle cx="204.50" cy="269.53" r="1.25" fill="#c8102e"/>
<line x1="201.00" y1="255.66" x2="208.00" y2="255.66" stroke="#c8102e" stroke-width="0.8"/>
<line x1="204.50" y1="250.46" x2="204.50" y2="260.28" stroke="#c8102e" stroke-width="0.8"/>
<line x1="202.50" y1="250.46" x2="206.50" y2="250.46" stroke="#c8102e" stroke-width="0.8"/>
<line x1="202.50" y1="260.28" x2="206.50" y2="260.28" stroke="#c8102e" stroke-width="0.8"/>
<circle cx="214.00" cy="271.26" r="1.25" fill="#17548f"/>
<circle cx="215.50" cy="272.42" r="1.25" fill="#17548f"/>
<circle cx="217.00" cy="273.00" r="1.25" fill="#17548f"/>
<circle cx="215.50" cy="271.84" r="1.25" fill="#17548f"/>
<line x1="212.50" y1="272.13" x2="218.50" y2="272.13" stroke="#17548f" stroke-width="0.8"/>
<line x1="202.00" y1="233.50" x2="218.80" y2="233.50" stroke="#111" stroke-width="1"/>
<text x="210.50" y="233.80" font-size="8" text-anchor="middle" stroke="#1a1a1a">*</text>
<circle cx="234.50" cy="232.54" r="1.25" fill="#c8102e"/>
<circle cx="234.50" cy="245.83" r="1.25" fill="#c8102e"/>
<circle cx="234.50" cy="252.77" r="1.25" fill="#c8102e"/>
<circle cx="234.50" cy="262.59" r="1.25" fill="#c8102e"/>
<circle cx="234.50" cy="268.37" r="1.25" fill="#c8102e"/>
<line x1="231.00" y1="253.35" x2="238.00" y2="253.35" stroke="#c8102e" stroke-width="0.8"/>
<line x1="234.50" y1="247.57" x2="234.50" y2="257.97" stroke="#c8102e" stroke-width="0.8"/>
<line x1="232.50" y1="247.57" x2="236.50" y2="247.57" stroke="#c8102e" stroke-width="0.8"/>
<line x1="232.50" y1="257.97" x2="236.50" y2="257.97" stroke="#c8102e" stroke-width="0.8"/>
<circle cx="245.50" cy="231.38" r="1.25" fill="#17548f"/>
<circle cx="245.50" cy="279.93" r="1.25" fill="#17548f"/>
<circle cx="245.50" cy="281.09" r="1.25" fill="#17548f"/>
<line x1="242.00" y1="263.75" x2="249.00" y2="263.75" stroke="#17548f" stroke-width="0.8"/>
<line x1="245.50" y1="247.57" x2="245.50" y2="279.93" stroke="#17548f" stroke-width="0.8"/>
<line x1="243.50" y1="247.57" x2="247.50" y2="247.57" stroke="#17548f" stroke-width="0.8"/>
<line x1="243.50" y1="279.93" x2="247.50" y2="279.93" stroke="#17548f" stroke-width="0.8"/>
<text x="301.60" y="179.30" font-size="11.2" font-weight="bold" fill="#000" stroke="#000">F</text>
<text x="262.80" y="189.20" font-size="7.4" text-anchor="middle" textLength="95.20" lengthAdjust="spacingAndGlyphs" stroke="#1a1a1a">BM Lin<tspan baseline-shift="42%" font-size="74%">–</tspan> cells allografted into</text>
<text x="262.80" y="198.70" font-size="7.4" text-anchor="middle" textLength="106.00" lengthAdjust="spacingAndGlyphs" stroke="#1a1a1a"><tspan font-style="italic">Ms4a3</tspan><tspan baseline-shift="42%" font-size="74%">+</tspan> littermates (BCR-ABL1<tspan baseline-shift="42%" font-size="74%">–</tspan>)</text>
<line x1="207.00" y1="203.60" x2="317.00" y2="203.60" stroke="#111" stroke-width="1.1"/>
<path d="M315.5,200.9 L321,203.6 L315.5,206.3 Z" fill="#111"/>
<line x1="275.40" y1="211.00" x2="275.40" y2="317.00" stroke="#222" stroke-width="1.1" stroke-dasharray="1.6,2"/>
<circle cx="325.50" cy="186.70" r="1.2" fill="#c8102e"/>
<text x="330.00" y="188.90" font-size="7.3" textLength="139.50" lengthAdjust="spacingAndGlyphs" stroke="#1a1a1a">Donor = <tspan font-style="italic">Ms4a3</tspan><tspan baseline-shift="42%" font-size="74%">+/+</tspan><tspan font-style="italic">;Scl-tTA</tspan><tspan baseline-shift="42%" font-size="74%">+</tspan><tspan font-style="italic">;TRE-BCR-ABL1</tspan><tspan baseline-shift="42%" font-size="74%">+</tspan></text>
<circle cx="325.50" cy="197.20" r="1.2" fill="#17548f"/>
<text x="330.00" y="199.40" font-size="7.3" textLength="139.50" lengthAdjust="spacingAndGlyphs" stroke="#1a1a1a">Donor = <tspan font-style="italic">Ms4a3</tspan><tspan baseline-shift="42%" font-size="74%">–/–</tspan><tspan font-style="italic">;Scl-tTA</tspan><tspan baseline-shift="42%" font-size="74%">+</tspan><tspan font-style="italic">;TRE-BCR-ABL1</tspan><tspan baseline-shift="42%" font-size="74%">+</tspan></text>
<line x1="475.00" y1="188.50" x2="482.00" y2="188.50" stroke="#c8102e" stroke-width="1.2"/>
<text x="484.50" y="190.90" font-size="7.4" textLength="28.00" lengthAdjust="spacingAndGlyphs" stroke="#1a1a1a">Average</text>
<line x1="475.00" y1="198.80" x2="482.00" y2="198.80" stroke="#17548f" stroke-width="1.2"/>
<text x="484.50" y="201.20" font-size="7.4" textLength="28.00" lengthAdjust="spacingAndGlyphs" stroke="#1a1a1a">Average</text>
<text x="353.90" y="215.20" font-size="10.6" text-anchor="middle" textLength="21.50" lengthAdjust="spacingAndGlyphs" stroke="#1a1a1a">WBC</text>
<text x="463.80" y="215.20" font-size="10.6" text-anchor="middle" textLength="26.50" lengthAdjust="spacingAndGlyphs" stroke="#1a1a1a">GRAN</text>
<line x1="325.50" y1="216.50" x2="325.50" y2="306.65" stroke="#333" stroke-width="1.7"/>
<line x1="322.50" y1="305.80" x2="325.50" y2="305.80" stroke="#333" stroke-width="1.1"/>
<text x="320.70" y="309.10" font-size="8.8" text-anchor="end" textLength="4.16" lengthAdjust="spacingAndGlyphs" stroke="#1a1a1a">0</text>
<line x1="322.50" y1="277.50" x2="325.50" y2="277.50" stroke="#333" stroke-width="1.1"/>
<text x="320.70" y="280.80" font-size="8.8" text-anchor="end" textLength="4.16" lengthAdjust="spacingAndGlyphs" stroke="#1a1a1a">2</text>
<line x1="322.50" y1="249.20" x2="325.50" y2="249.20" stroke="#333" stroke-width="1.1"/>
<text x="320.70" y="252.50" font-size="8.8" text-anchor="end" textLength="4.16" lengthAdjust="spacingAndGlyphs" stroke="#1a1a1a">4</text>
<line x1="322.50" y1="220.90" x2="325.50" y2="220.90" stroke="#333" stroke-width="1.1"/>
<text x="320.70" y="224.20" font-size="8.8" text-anchor="end" textLength="4.16" lengthAdjust="spacingAndGlyphs" stroke="#1a1a1a">6</text>
<line x1="325.50" y1="305.80" x2="382.60" y2="305.80" stroke="#111" stroke-width="1.3"/>
<line x1="339.10" y1="305.80" x2="339.10" y2="308.80" stroke="#333" stroke-width="1.1"/>
<line x1="368.70" y1="305.80" x2="368.70" y2="308.80" stroke="#333" stroke-width="1.1"/>
<text x="338.70" y="318.00" font-size="8.2" text-anchor="middle" textLength="24.50" lengthAdjust="spacingAndGlyphs" stroke="#1a1a1a">Week 4</text>
<text x="368.70" y="318.00" font-size="8.2" text-anchor="middle" textLength="24.50" lengthAdjust="spacingAndGlyphs" stroke="#1a1a1a">Week 6</text>
<text x="310.20" y="261.00" font-size="10" text-anchor="middle" textLength="50.00" lengthAdjust="spacingAndGlyphs" stroke="#1a1a1a" transform="rotate(-90 310.20 261.00)">Relative counts</text>
<polyline points="339.10,291.65 368.70,283.16" fill="none" stroke="#c8102e" stroke-width="0.8" stroke-dasharray="1,0.9"/>
<polyline points="339.10,291.65 368.70,281.75" fill="none" stroke="#c8102e" stroke-width="0.8" stroke-dasharray="1,0.9"/>
<polyline points="339.10,291.65 368.70,280.33" fill="none" stroke="#c8102e" stroke-width="0.8" stroke-dasharray="1,0.9"/>
<polyline points="339.10,291.65 368.70,278.92" fill="none" stroke="#c8102e" stroke-width="0.8" stroke-dasharray="1,0.9"/>
<circle cx="368.70" cy="283.16" r="1.0" fill="#c8102e"/>
<circle cx="368.70" cy="281.75" r="1.0" fill="#c8102e"/>
<circle cx="368.70" cy="280.33" r="1.0" fill="#c8102e"/>
<circle cx="368.70" cy="278.92" r="1.0" fill="#c8102e"/>
<circle cx="339.10" cy="291.65" r="1.0" fill="#c8102e"/>
<polyline points="339.10,291.65 368.70,223.73" fill="none" stroke="#17548f" stroke-width="0.8" stroke-dasharray="1,0.9"/>
<polyline points="339.10,291.65 368.70,271.13" fill="none" stroke="#17548f" stroke-width="0.8" stroke-dasharray="1,0.9"/>
<polyline points="339.10,291.65 368.70,273.25" fill="none" stroke="#17548f" stroke-width="0.8" stroke-dasharray="1,0.9"/>
<polyline points="339.10,291.65 368.70,276.09" fill="none" stroke="#17548f" stroke-width="0.8" stroke-dasharray="1,0.9"/>
<polyline points="339.10,291.65 368.70,284.57" fill="none" stroke="#17548f" stroke-width="0.8" stroke-dasharray="1,0.9"/>
<circle cx="368.70" cy="223.73" r="1.0" fill="#17548f"/>
<circle cx="368.70" cy="271.13" r="1.0" fill="#17548f"/>
<circle cx="368.70" cy="273.25" r="1.0" fill="#17548f"/>
<circle cx="368.70" cy="276.09" r="1.0" fill="#17548f"/>
<circle cx="368.70" cy="284.57" r="1.0" fill="#17548f"/>
<circle cx="339.10" cy="291.65" r="1.0" fill="#17548f"/>
<line x1="361.30" y1="266.18" x2="373.90" y2="266.18" stroke="#17548f" stroke-width="1.3"/>
<line x1="361.30" y1="280.33" x2="373.90" y2="280.33" stroke="#c8102e" stroke-width="1.3"/>
<line x1="368.70" y1="282.45" x2="368.70" y2="278.21" stroke="#c8102e" stroke-width="1.8"/>
<line x1="434.50" y1="214.60" x2="434.50" y2="306.65" stroke="#333" stroke-width="1.7"/>
<line x1="431.50" y1="305.80" x2="434.50" y2="305.80" stroke="#333" stroke-width="1.1"/>
<text x="429.70" y="309.10" font-size="8.8" text-anchor="end" textLength="4.16" lengthAdjust="spacingAndGlyphs" stroke="#1a1a1a">0</text>
<line x1="431.50" y1="283.94" x2="434.50" y2="283.94" stroke="#333" stroke-width="1.1"/>
<text x="429.70" y="287.24" font-size="8.8" text-anchor="end" textLength="4.16" lengthAdjust="spacingAndGlyphs" stroke="#1a1a1a">2</text>
<line x1="431.50" y1="262.08" x2="434.50" y2="262.08" stroke="#333" stroke-width="1.1"/>
<text x="429.70" y="265.38" font-size="8.8" text-anchor="end" textLength="4.16" lengthAdjust="spacingAndGlyphs" stroke="#1a1a1a">4</text>
<line x1="431.50" y1="240.22" x2="434.50" y2="240.22" stroke="#333" stroke-width="1.1"/>
<text x="429.70" y="243.52" font-size="8.8" text-anchor="end" textLength="4.16" lengthAdjust="spacingAndGlyphs" stroke="#1a1a1a">6</text>
<line x1="431.50" y1="218.36" x2="434.50" y2="218.36" stroke="#333" stroke-width="1.1"/>
<text x="429.70" y="221.66" font-size="8.8" text-anchor="end" textLength="4.16" lengthAdjust="spacingAndGlyphs" stroke="#1a1a1a">8</text>
<line x1="434.50" y1="305.80" x2="492.60" y2="305.80" stroke="#111" stroke-width="1.3"/>
<line x1="448.70" y1="305.80" x2="448.70" y2="308.80" stroke="#333" stroke-width="1.1"/>
<line x1="478.30" y1="305.80" x2="478.30" y2="308.80" stroke="#333" stroke-width="1.1"/>
<text x="447.80" y="318.00" font-size="8.2" text-anchor="middle" textLength="24.50" lengthAdjust="spacingAndGlyphs" stroke="#1a1a1a">Week 4</text>
<text x="478.90" y="318.00" font-size="8.2" text-anchor="middle" textLength="24.50" lengthAdjust="spacingAndGlyphs" stroke="#1a1a1a">Week 6</text>
<text x="418.70" y="260.20" font-size="10" text-anchor="middle" textLength="50.00" lengthAdjust="spacingAndGlyphs" stroke="#1a1a1a" transform="rotate(-90 418.70 260.20)">Relative counts</text>
<text x="478.80" y="231.00" font-size="7.6" text-anchor="middle" textLength="26.80" lengthAdjust="spacingAndGlyphs" stroke="#1a1a1a">p = 0.03</text>
<polyline points="448.70,294.87 478.30,287.77" fill="none" stroke="#c8102e" stroke-width="0.8" stroke-dasharray="1,0.9"/>
<polyline points="448.70,294.87 478.30,293.23" fill="none" stroke="#c8102e" stroke-width="0.8" stroke-dasharray="1,0.9"/>
<polyline points="448.70,294.87 478.30,293.78" fill="none" stroke="#c8102e" stroke-width="0.8" stroke-dasharray="1,0.9"/>
<polyline points="448.70,294.87 478.30,295.96" fill="none" stroke="#c8102e" stroke-width="0.8" stroke-dasharray="1,0.9"/>
<circle cx="478.30" cy="287.77" r="1.0" fill="#c8102e"/>
<circle cx="478.30" cy="293.23" r="1.0" fill="#c8102e"/>
<circle cx="478.30" cy="293.78" r="1.0" fill="#c8102e"/>
<circle cx="478.30" cy="295.96" r="1.0" fill="#c8102e"/>
<circle cx="448.70" cy="294.87" r="1.0" fill="#c8102e"/>
<polyline points="448.70,294.87 478.30,235.85" fill="none" stroke="#17548f" stroke-width="0.8" stroke-dasharray="1,0.9"/>
<polyline points="448.70,294.87 478.30,270.28" fill="none" stroke="#17548f" stroke-width="0.8" stroke-dasharray="1,0.9"/>
<polyline points="448.70,294.87 478.30,286.13" fill="none" stroke="#17548f" stroke-width="0.8" stroke-dasharray="1,0.9"/>
<polyline points="448.70,294.87 478.30,291.59" fill="none" stroke="#17548f" stroke-width="0.8" stroke-dasharray="1,0.9"/>
<circle cx="478.30" cy="235.85" r="1.0" fill="#17548f"/>
<circle cx="478.30" cy="270.28" r="1.0" fill="#17548f"/>
<circle cx="478.30" cy="286.13" r="1.0" fill="#17548f"/>
<circle cx="478.30" cy="291.59" r="1.0" fill="#17548f"/>
<circle cx="448.70" cy="294.87" r="1.0" fill="#17548f"/>
<line x1="472.20" y1="272.46" x2="483.90" y2="272.46" stroke="#17548f" stroke-width="1.3"/>
<line x1="472.20" y1="293.23" x2="483.90" y2="293.23" stroke="#c8102e" stroke-width="1.3"/>
<text x="7.20" y="336.00" font-size="11.2" font-weight="bold" fill="#000" stroke="#000">G</text>
<text x="103.30" y="342.80" font-size="10.6" text-anchor="middle" textLength="26.40" lengthAdjust="spacingAndGlyphs" stroke="#1a1a1a">GRAN</text>
<text x="280.30" y="342.80" font-size="10.6" text-anchor="middle" textLength="36.60" lengthAdjust="spacingAndGlyphs" stroke="#1a1a1a">% GRAN</text>
<line x1="41.10" y1="345.00" x2="41.10" y2="432.25" stroke="#333" stroke-width="1.7"/>
<line x1="38.10" y1="431.40" x2="41.10" y2="431.40" stroke="#333" stroke-width="1.1"/>
<text x="36.30" y="434.70" font-size="8.8" text-anchor="end" textLength="4.16" lengthAdjust="spacingAndGlyphs" stroke="#1a1a1a">0</text>
<line x1="38.10" y1="417.27" x2="41.10" y2="417.27" stroke="#333" stroke-width="1.1"/>
<text x="36.30" y="420.57" font-size="8.8" text-anchor="end" textLength="4.16" lengthAdjust="spacingAndGlyphs" stroke="#1a1a1a">1</text>
<line x1="38.10" y1="403.14" x2="41.10" y2="403.14" stroke="#333" stroke-width="1.1"/>
<text x="36.30" y="406.44" font-size="8.8" text-anchor="end" textLength="4.16" lengthAdjust="spacingAndGlyphs" stroke="#1a1a1a">2</text>
<line x1="38.10" y1="374.88" x2="41.10" y2="374.88" stroke="#333" stroke-width="1.1"/>
<text x="36.30" y="378.18" font-size="8.8" text-anchor="end" textLength="4.16" lengthAdjust="spacingAndGlyphs" stroke="#1a1a1a">4</text>
<line x1="38.10" y1="346.62" x2="41.10" y2="346.62" stroke="#333" stroke-width="1.1"/>
<text x="36.30" y="349.92" font-size="8.8" text-anchor="end" textLength="4.16" lengthAdjust="spacingAndGlyphs" stroke="#1a1a1a">6</text>
<line x1="41.10" y1="431.40" x2="166.00" y2="431.40" stroke="#111" stroke-width="1.3"/>
<line x1="61.80" y1="431.40" x2="61.80" y2="434.40" stroke="#333" stroke-width="1.1"/>
<line x1="104.00" y1="431.40" x2="104.00" y2="434.40" stroke="#333" stroke-width="1.1"/>
<line x1="146.60" y1="431.40" x2="146.60" y2="434.40" stroke="#333" stroke-width="1.1"/>
<line x1="43.60" y1="417.27" x2="166.00" y2="417.27" stroke="#333" stroke-width="1" stroke-dasharray="2.2,2"/>
<text x="61.80" y="443.60" font-size="8.2" textLength="42.20" lengthAdjust="spacingAndGlyphs" stroke="#1a1a1a">IM challenge</text>
<text x="110.80" y="443.60" font-size="8.2" textLength="30.20" lengthAdjust="spacingAndGlyphs" stroke="#1a1a1a">Recovery</text>
<text x="25.00" y="387.00" font-size="10" text-anchor="middle" textLength="49.30" lengthAdjust="spacingAndGlyphs" stroke="#1a1a1a" transform="rotate(-90 25.00 387.00)">Relative counts</text>
<text x="61.00" y="383.70" font-size="8.2" textLength="24.20" lengthAdjust="spacingAndGlyphs" stroke="#1a1a1a">IM p.o.</text>
<line x1="61.90" y1="389.00" x2="61.90" y2="396.70" stroke="#000" stroke-width="1.1"/>
<path d="M59.60,396.10 L64.20,396.10 L61.90,399.70 Z" fill="#000"/>
<line x1="68.37" y1="389.00" x2="68.37" y2="396.70" stroke="#000" stroke-width="1.1"/>
<path d="M66.07,396.10 L70.67,396.10 L68.37,399.70 Z" fill="#000"/>
<line x1="74.84" y1="389.00" x2="74.84" y2="396.70" stroke="#000" stroke-width="1.1"/>
<path d="M72.54,396.10 L77.14,396.10 L74.84,399.70 Z" fill="#000"/>
<line x1="81.31" y1="389.00" x2="81.31" y2="396.70" stroke="#000" stroke-width="1.1"/>
<path d="M79.01,396.10 L83.61,396.10 L81.31,399.70 Z" fill="#000"/>
<line x1="87.78" y1="389.00" x2="87.78" y2="396.70" stroke="#000" stroke-width="1.1"/>
<path d="M85.48,396.10 L90.08,396.10 L87.78,399.70 Z" fill="#000"/>
<line x1="94.25" y1="389.00" x2="94.25" y2="396.70" stroke="#000" stroke-width="1.1"/>
<path d="M91.95,396.10 L96.55,396.10 L94.25,399.70 Z" fill="#000"/>
<line x1="100.72" y1="389.00" x2="100.72" y2="396.70" stroke="#000" stroke-width="1.1"/>
<path d="M98.42,396.10 L103.02,396.10 L100.72,399.70 Z" fill="#000"/>
<line x1="61.80" y1="417.27" x2="104.00" y2="407.38" stroke="#c8102e" stroke-width="0.8" stroke-dasharray="1,0.9"/>
<line x1="104.00" y1="407.38" x2="146.60" y2="374.46" stroke="#c8102e" stroke-width="0.8" stroke-dasharray="1.6,0.8"/>
<line x1="61.80" y1="417.27" x2="104.00" y2="413.03" stroke="#c8102e" stroke-width="0.8" stroke-dasharray="1,0.9"/>
<line x1="104.00" y1="413.03" x2="146.60" y2="380.81" stroke="#c8102e" stroke-width="0.8" stroke-dasharray="1.6,0.8"/>
<line x1="61.80" y1="417.27" x2="104.00" y2="414.44" stroke="#c8102e" stroke-width="0.8" stroke-dasharray="1,0.9"/>
<line x1="104.00" y1="414.44" x2="146.60" y2="403.85" stroke="#c8102e" stroke-width="0.8" stroke-dasharray="1.6,0.8"/>
<line x1="61.80" y1="417.27" x2="104.00" y2="417.69" stroke="#c8102e" stroke-width="0.8" stroke-dasharray="1,0.9"/>
<line x1="104.00" y1="417.69" x2="146.60" y2="412.61" stroke="#c8102e" stroke-width="0.8" stroke-dasharray="1.6,0.8"/>
<line x1="61.80" y1="417.27" x2="104.00" y2="419.39" stroke="#c8102e" stroke-width="0.8" stroke-dasharray="1,0.9"/>
<line x1="104.00" y1="419.39" x2="146.60" y2="417.27" stroke="#c8102e" stroke-width="0.8" stroke-dasharray="1.6,0.8"/>
<line x1="61.80" y1="417.27" x2="104.00" y2="421.51" stroke="#c8102e" stroke-width="0.8" stroke-dasharray="1,0.9"/>
<line x1="104.00" y1="421.51" x2="146.60" y2="414.44" stroke="#c8102e" stroke-width="0.8" stroke-dasharray="1.6,0.8"/>
<line x1="61.80" y1="417.27" x2="104.00" y2="415.86" stroke="#c8102e" stroke-width="0.8" stroke-dasharray="1,0.9"/>
<line x1="104.00" y1="415.86" x2="146.60" y2="403.85" stroke="#c8102e" stroke-width="0.8" stroke-dasharray="1.6,0.8"/>
<line x1="61.80" y1="417.27" x2="104.00" y2="420.80" stroke="#c8102e" stroke-width="0.8" stroke-dasharray="1,0.9"/>
<line x1="104.00" y1="420.80" x2="146.60" y2="416.56" stroke="#c8102e" stroke-width="0.8" stroke-dasharray="1.6,0.8"/>
<circle cx="61.80" cy="417.27" r="1.0" fill="#c8102e"/>
<circle cx="104.00" cy="407.38" r="1.0" fill="#c8102e"/>
<circle cx="146.60" cy="374.46" r="1.0" fill="#c8102e"/>
<circle cx="61.80" cy="417.27" r="1.0" fill="#c8102e"/>
<circle cx="104.00" cy="413.03" r="1.0" fill="#c8102e"/>
<circle cx="146.60" cy="380.81" r="1.0" fill="#c8102e"/>
<circle cx="61.80" cy="417.27" r="1.0" fill="#c8102e"/>
<circle cx="104.00" cy="414.44" r="1.0" fill="#c8102e"/>
<circle cx="146.60" cy="403.85" r="1.0" fill="#c8102e"/>
<circle cx="61.80" cy="417.27" r="1.0" fill="#c8102e"/>
<circle cx="104.00" cy="417.69" r="1.0" fill="#c8102e"/>
<circle cx="146.60" cy="412.61" r="1.0" fill="#c8102e"/>
<circle cx="61.80" cy="417.27" r="1.0" fill="#c8102e"/>
<circle cx="104.00" cy="419.39" r="1.0" fill="#c8102e"/>
<circle cx="146.60" cy="417.27" r="1.0" fill="#c8102e"/>
<circle cx="61.80" cy="417.27" r="1.0" fill="#c8102e"/>
<circle cx="104.00" cy="421.51" r="1.0" fill="#c8102e"/>
<circle cx="146.60" cy="414.44" r="1.0" fill="#c8102e"/>
<circle cx="61.80" cy="417.27" r="1.0" fill="#c8102e"/>
<circle cx="104.00" cy="415.86" r="1.0" fill="#c8102e"/>
<circle cx="146.60" cy="403.85" r="1.0" fill="#c8102e"/>
<circle cx="61.80" cy="417.27" r="1.0" fill="#c8102e"/>
<circle cx="104.00" cy="420.80" r="1.0" fill="#c8102e"/>
<circle cx="146.60" cy="416.56" r="1.0" fill="#c8102e"/>
<line x1="61.80" y1="417.27" x2="104.00" y2="400.31" stroke="#17548f" stroke-width="0.8" stroke-dasharray="1,0.9"/>
<line x1="104.00" y1="400.31" x2="146.60" y2="363.72" stroke="#17548f" stroke-width="0.8" stroke-dasharray="1.6,0.8"/>
<line x1="61.80" y1="417.27" x2="104.00" y2="410.91" stroke="#17548f" stroke-width="0.8" stroke-dasharray="1,0.9"/>
<line x1="104.00" y1="410.91" x2="146.60" y2="366.40" stroke="#17548f" stroke-width="0.8" stroke-dasharray="1.6,0.8"/>
<line x1="61.80" y1="417.27" x2="104.00" y2="412.32" stroke="#17548f" stroke-width="0.8" stroke-dasharray="1,0.9"/>
<line x1="104.00" y1="412.32" x2="146.60" y2="372.05" stroke="#17548f" stroke-width="0.8" stroke-dasharray="1.6,0.8"/>
<line x1="61.80" y1="417.27" x2="104.00" y2="408.79" stroke="#17548f" stroke-width="0.8" stroke-dasharray="1,0.9"/>
<line x1="104.00" y1="408.79" x2="146.60" y2="392.54" stroke="#17548f" stroke-width="0.8" stroke-dasharray="1.6,0.8"/>
<line x1="61.80" y1="417.27" x2="104.00" y2="414.44" stroke="#17548f" stroke-width="0.8" stroke-dasharray="1,0.9"/>
<line x1="104.00" y1="414.44" x2="146.60" y2="403.85" stroke="#17548f" stroke-width="0.8" stroke-dasharray="1.6,0.8"/>
<line x1="61.80" y1="417.27" x2="104.00" y2="415.86" stroke="#17548f" stroke-width="0.8" stroke-dasharray="1,0.9"/>
<line x1="104.00" y1="415.86" x2="146.60" y2="415.29" stroke="#17548f" stroke-width="0.8" stroke-dasharray="1.6,0.8"/>
<line x1="61.80" y1="417.27" x2="104.00" y2="410.20" stroke="#17548f" stroke-width="0.8" stroke-dasharray="1,0.9"/>
<line x1="104.00" y1="410.20" x2="146.60" y2="416.56" stroke="#17548f" stroke-width="0.8" stroke-dasharray="1.6,0.8"/>
<circle cx="61.80" cy="417.27" r="1.0" fill="#17548f"/>
<circle cx="104.00" cy="400.31" r="1.0" fill="#17548f"/>
<circle cx="146.60" cy="363.72" r="1.0" fill="#17548f"/>
<circle cx="61.80" cy="417.27" r="1.0" fill="#17548f"/>
<circle cx="104.00" cy="410.91" r="1.0" fill="#17548f"/>
<circle cx="146.60" cy="366.40" r="1.0" fill="#17548f"/>
<circle cx="61.80" cy="417.27" r="1.0" fill="#17548f"/>
<circle cx="104.00" cy="412.32" r="1.0" fill="#17548f"/>
<circle cx="146.60" cy="372.05" r="1.0" fill="#17548f"/>
<circle cx="61.80" cy="417.27" r="1.0" fill="#17548f"/>
<circle cx="104.00" cy="408.79" r="1.0" fill="#17548f"/>
<circle cx="146.60" cy="392.54" r="1.0" fill="#17548f"/>
<circle cx="61.80" cy="417.27" r="1.0" fill="#17548f"/>
<circle cx="104.00" cy="414.44" r="1.0" fill="#17548f"/>
<circle cx="146.60" cy="403.85" r="1.0" fill="#17548f"/>
<circle cx="61.80" cy="417.27" r="1.0" fill="#17548f"/>
<circle cx="104.00" cy="415.86" r="1.0" fill="#17548f"/>
<circle cx="146.60" cy="415.29" r="1.0" fill="#17548f"/>
<circle cx="61.80" cy="417.27" r="1.0" fill="#17548f"/>
<circle cx="104.00" cy="410.20" r="1.0" fill="#17548f"/>
<circle cx="146.60" cy="416.56" r="1.0" fill="#17548f"/>
<line x1="139.90" y1="383.08" x2="153.30" y2="383.08" stroke="#17548f" stroke-width="1.3"/>
<line x1="139.90" y1="400.03" x2="153.30" y2="400.03" stroke="#c8102e" stroke-width="1.3"/>
<line x1="98.70" y1="410.77" x2="110.80" y2="410.77" stroke="#17548f" stroke-width="1.3"/>
<line x1="98.70" y1="416.56" x2="110.80" y2="416.56" stroke="#c8102e" stroke-width="1.3"/>
<line x1="104.00" y1="420.10" x2="104.00" y2="413.03" stroke="#c8102e" stroke-width="1"/>
<line x1="217.60" y1="343.00" x2="217.60" y2="431.25" stroke="#333" stroke-width="1.7"/>
<line x1="214.60" y1="430.40" x2="217.60" y2="430.40" stroke="#333" stroke-width="1.1"/>
<text x="212.80" y="433.70" font-size="8.8" text-anchor="end" textLength="4.16" lengthAdjust="spacingAndGlyphs" stroke="#1a1a1a">0</text>
<line x1="214.60" y1="413.50" x2="217.60" y2="413.50" stroke="#333" stroke-width="1.1"/>
<text x="212.80" y="416.80" font-size="8.8" text-anchor="end" textLength="4.16" lengthAdjust="spacingAndGlyphs" stroke="#1a1a1a">1</text>
<line x1="214.60" y1="396.60" x2="217.60" y2="396.60" stroke="#333" stroke-width="1.1"/>
<text x="212.80" y="399.90" font-size="8.8" text-anchor="end" textLength="4.16" lengthAdjust="spacingAndGlyphs" stroke="#1a1a1a">2</text>
<line x1="214.60" y1="379.70" x2="217.60" y2="379.70" stroke="#333" stroke-width="1.1"/>
<text x="212.80" y="383.00" font-size="8.8" text-anchor="end" textLength="4.16" lengthAdjust="spacingAndGlyphs" stroke="#1a1a1a">3</text>
<line x1="214.60" y1="362.80" x2="217.60" y2="362.80" stroke="#333" stroke-width="1.1"/>
<text x="212.80" y="366.10" font-size="8.8" text-anchor="end" textLength="4.16" lengthAdjust="spacingAndGlyphs" stroke="#1a1a1a">4</text>
<line x1="214.60" y1="345.90" x2="217.60" y2="345.90" stroke="#333" stroke-width="1.1"/>
<text x="212.80" y="349.20" font-size="8.8" text-anchor="end" textLength="4.16" lengthAdjust="spacingAndGlyphs" stroke="#1a1a1a">5</text>
<line x1="217.60" y1="430.40" x2="343.50" y2="430.40" stroke="#111" stroke-width="1.3"/>
<line x1="238.80" y1="430.40" x2="238.80" y2="433.40" stroke="#333" stroke-width="1.1"/>
<line x1="280.40" y1="430.40" x2="280.40" y2="433.40" stroke="#333" stroke-width="1.1"/>
<line x1="322.20" y1="430.40" x2="322.20" y2="433.40" stroke="#333" stroke-width="1.1"/>
<line x1="220.00" y1="413.50" x2="343.50" y2="413.50" stroke="#333" stroke-width="1" stroke-dasharray="2.2,2"/>
<text x="233.90" y="442.60" font-size="8.2" textLength="45.80" lengthAdjust="spacingAndGlyphs" stroke="#1a1a1a">IM challenge</text>
<text x="284.60" y="442.60" font-size="8.2" textLength="31.10" lengthAdjust="spacingAndGlyphs" stroke="#1a1a1a">Recovery</text>
<text x="234.90" y="367.30" font-size="8.2" textLength="24.00" lengthAdjust="spacingAndGlyphs" stroke="#1a1a1a">IM p.o.</text>
<line x1="235.20" y1="370.90" x2="235.20" y2="377.90" stroke="#000" stroke-width="1.1"/>
<path d="M232.90,377.30 L237.50,377.30 L235.20,380.90 Z" fill="#000"/>
<line x1="241.62" y1="370.90" x2="241.62" y2="377.90" stroke="#000" stroke-width="1.1"/>
<path d="M239.32,377.30 L243.92,377.30 L241.62,380.90 Z" fill="#000"/>
<line x1="248.04" y1="370.90" x2="248.04" y2="377.90" stroke="#000" stroke-width="1.1"/>
<path d="M245.74,377.30 L250.34,377.30 L248.04,380.90 Z" fill="#000"/>
<line x1="254.46" y1="370.90" x2="254.46" y2="377.90" stroke="#000" stroke-width="1.1"/>
<path d="M252.16,377.30 L256.76,377.30 L254.46,380.90 Z" fill="#000"/>
<line x1="260.88" y1="370.90" x2="260.88" y2="377.90" stroke="#000" stroke-width="1.1"/>
<path d="M258.58,377.30 L263.18,377.30 L260.88,380.90 Z" fill="#000"/>
<line x1="267.30" y1="370.90" x2="267.30" y2="377.90" stroke="#000" stroke-width="1.1"/>
<path d="M265.00,377.30 L269.60,377.30 L267.30,380.90 Z" fill="#000"/>
<line x1="273.72" y1="370.90" x2="273.72" y2="377.90" stroke="#000" stroke-width="1.1"/>
<path d="M271.42,377.30 L276.02,377.30 L273.72,380.90 Z" fill="#000"/>
<text x="324.60" y="351.80" font-size="7.6" text-anchor="middle" textLength="31.10" lengthAdjust="spacingAndGlyphs" stroke="#1a1a1a">p = 0.007</text>
<text x="189.50" y="386.60" font-size="10" text-anchor="middle" textLength="60.70" lengthAdjust="spacingAndGlyphs" stroke="#1a1a1a" transform="rotate(-90 189.50 386.60)">Relative change of</text>
<text x="201.00" y="387.60" font-size="10" text-anchor="middle" textLength="52.40" lengthAdjust="spacingAndGlyphs" stroke="#1a1a1a" transform="rotate(-90 201.00 387.60)">% GRAN in WBC</text>
<line x1="238.80" y1="413.50" x2="280.40" y2="399.13" stroke="#c8102e" stroke-width="0.8" stroke-dasharray="1,0.9"/>
<line x1="280.40" y1="399.13" x2="322.20" y2="391.53" stroke="#c8102e" stroke-width="0.8" stroke-dasharray="1.6,0.8"/>
<line x1="238.80" y1="413.50" x2="280.40" y2="403.36" stroke="#c8102e" stroke-width="0.8" stroke-dasharray="1,0.9"/>
<line x1="280.40" y1="403.36" x2="322.20" y2="393.22" stroke="#c8102e" stroke-width="0.8" stroke-dasharray="1.6,0.8"/>
<line x1="238.80" y1="413.50" x2="280.40" y2="410.96" stroke="#c8102e" stroke-width="0.8" stroke-dasharray="1,0.9"/>
<line x1="280.40" y1="410.96" x2="322.20" y2="405.05" stroke="#c8102e" stroke-width="0.8" stroke-dasharray="1.6,0.8"/>
<line x1="238.80" y1="413.50" x2="280.40" y2="419.58" stroke="#c8102e" stroke-width="0.8" stroke-dasharray="1,0.9"/>
<line x1="280.40" y1="419.58" x2="322.20" y2="406.74" stroke="#c8102e" stroke-width="0.8" stroke-dasharray="1.6,0.8"/>
<line x1="238.80" y1="413.50" x2="280.40" y2="415.19" stroke="#c8102e" stroke-width="0.8" stroke-dasharray="1,0.9"/>
<line x1="280.40" y1="415.19" x2="322.20" y2="405.89" stroke="#c8102e" stroke-width="0.8" stroke-dasharray="1.6,0.8"/>
<line x1="238.80" y1="413.50" x2="280.40" y2="408.43" stroke="#c8102e" stroke-width="0.8" stroke-dasharray="1,0.9"/>
<line x1="280.40" y1="408.43" x2="322.20" y2="392.38" stroke="#c8102e" stroke-width="0.8" stroke-dasharray="1.6,0.8"/>
<line x1="238.80" y1="413.50" x2="280.40" y2="416.88" stroke="#c8102e" stroke-width="0.8" stroke-dasharray="1,0.9"/>
<line x1="280.40" y1="416.88" x2="322.20" y2="405.05" stroke="#c8102e" stroke-width="0.8" stroke-dasharray="1.6,0.8"/>
<circle cx="238.80" cy="413.50" r="1.0" fill="#c8102e"/>
<circle cx="280.40" cy="399.13" r="1.0" fill="#c8102e"/>
<circle cx="322.20" cy="391.53" r="1.0" fill="#c8102e"/>
<circle cx="238.80" cy="413.50" r="1.0" fill="#c8102e"/>
<circle cx="280.40" cy="403.36" r="1.0" fill="#c8102e"/>
<circle cx="322.20" cy="393.22" r="1.0" fill="#c8102e"/>
<circle cx="238.80" cy="413.50" r="1.0" fill="#c8102e"/>
<circle cx="280.40" cy="410.96" r="1.0" fill="#c8102e"/>
<circle cx="322.20" cy="405.05" r="1.0" fill="#c8102e"/>
<circle cx="238.80" cy="413.50" r="1.0" fill="#c8102e"/>
<circle cx="280.40" cy="419.58" r="1.0" fill="#c8102e"/>
<circle cx="322.20" cy="406.74" r="1.0" fill="#c8102e"/>
<circle cx="238.80" cy="413.50" r="1.0" fill="#c8102e"/>
<circle cx="280.40" cy="415.19" r="1.0" fill="#c8102e"/>
<circle cx="322.20" cy="405.89" r="1.0" fill="#c8102e"/>
<circle cx="238.80" cy="413.50" r="1.0" fill="#c8102e"/>
<circle cx="280.40" cy="408.43" r="1.0" fill="#c8102e"/>
<circle cx="322.20" cy="392.38" r="1.0" fill="#c8102e"/>
<circle cx="238.80" cy="413.50" r="1.0" fill="#c8102e"/>
<circle cx="280.40" cy="416.88" r="1.0" fill="#c8102e"/>
<circle cx="322.20" cy="405.05" r="1.0" fill="#c8102e"/>
<line x1="238.80" y1="413.50" x2="280.40" y2="378.01" stroke="#17548f" stroke-width="0.8" stroke-dasharray="1,0.9"/>
<line x1="280.40" y1="378.01" x2="322.20" y2="354.35" stroke="#17548f" stroke-width="0.8" stroke-dasharray="1.6,0.8"/>
<line x1="238.80" y1="413.50" x2="280.40" y2="393.22" stroke="#17548f" stroke-width="0.8" stroke-dasharray="1,0.9"/>
<line x1="280.40" y1="393.22" x2="322.20" y2="362.80" stroke="#17548f" stroke-width="0.8" stroke-dasharray="1.6,0.8"/>
<line x1="238.80" y1="413.50" x2="280.40" y2="396.60" stroke="#17548f" stroke-width="0.8" stroke-dasharray="1,0.9"/>
<line x1="280.40" y1="396.60" x2="322.20" y2="367.02" stroke="#17548f" stroke-width="0.8" stroke-dasharray="1.6,0.8"/>
<line x1="238.80" y1="413.50" x2="280.40" y2="402.51" stroke="#17548f" stroke-width="0.8" stroke-dasharray="1,0.9"/>
<line x1="280.40" y1="402.51" x2="322.20" y2="371.25" stroke="#17548f" stroke-width="0.8" stroke-dasharray="1.6,0.8"/>
<line x1="238.80" y1="413.50" x2="280.40" y2="405.05" stroke="#17548f" stroke-width="0.8" stroke-dasharray="1,0.9"/>
<line x1="280.40" y1="405.05" x2="322.20" y2="389.84" stroke="#17548f" stroke-width="0.8" stroke-dasharray="1.6,0.8"/>
<line x1="238.80" y1="413.50" x2="280.40" y2="413.84" stroke="#17548f" stroke-width="0.8" stroke-dasharray="1,0.9"/>
<line x1="280.40" y1="413.84" x2="322.20" y2="393.22" stroke="#17548f" stroke-width="0.8" stroke-dasharray="1.6,0.8"/>
<line x1="238.80" y1="413.50" x2="280.40" y2="399.98" stroke="#17548f" stroke-width="0.8" stroke-dasharray="1,0.9"/>
<line x1="280.40" y1="399.98" x2="322.20" y2="394.91" stroke="#17548f" stroke-width="0.8" stroke-dasharray="1.6,0.8"/>
<line x1="238.80" y1="413.50" x2="280.40" y2="404.20" stroke="#17548f" stroke-width="0.8" stroke-dasharray="1,0.9"/>
<line x1="280.40" y1="404.20" x2="322.20" y2="369.56" stroke="#17548f" stroke-width="0.8" stroke-dasharray="1.6,0.8"/>
<circle cx="238.80" cy="413.50" r="1.0" fill="#17548f"/>
<circle cx="280.40" cy="378.01" r="1.0" fill="#17548f"/>
<circle cx="322.20" cy="354.35" r="1.0" fill="#17548f"/>
<circle cx="238.80" cy="413.50" r="1.0" fill="#17548f"/>
<circle cx="280.40" cy="393.22" r="1.0" fill="#17548f"/>
<circle cx="322.20" cy="362.80" r="1.0" fill="#17548f"/>
<circle cx="238.80" cy="413.50" r="1.0" fill="#17548f"/>
<circle cx="280.40" cy="396.60" r="1.0" fill="#17548f"/>
<circle cx="322.20" cy="367.02" r="1.0" fill="#17548f"/>
<circle cx="238.80" cy="413.50" r="1.0" fill="#17548f"/>
<circle cx="280.40" cy="402.51" r="1.0" fill="#17548f"/>
<circle cx="322.20" cy="371.25" r="1.0" fill="#17548f"/>
<circle cx="238.80" cy="413.50" r="1.0" fill="#17548f"/>
<circle cx="280.40" cy="405.05" r="1.0" fill="#17548f"/>
<circle cx="322.20" cy="389.84" r="1.0" fill="#17548f"/>
<circle cx="238.80" cy="413.50" r="1.0" fill="#17548f"/>
<circle cx="280.40" cy="413.84" r="1.0" fill="#17548f"/>
<circle cx="322.20" cy="393.22" r="1.0" fill="#17548f"/>
<circle cx="238.80" cy="413.50" r="1.0" fill="#17548f"/>
<circle cx="280.40" cy="399.98" r="1.0" fill="#17548f"/>
<circle cx="322.20" cy="394.91" r="1.0" fill="#17548f"/>
<circle cx="238.80" cy="413.50" r="1.0" fill="#17548f"/>
<circle cx="280.40" cy="404.20" r="1.0" fill="#17548f"/>
<circle cx="322.20" cy="369.56" r="1.0" fill="#17548f"/>
<line x1="316.60" y1="372.09" x2="328.70" y2="372.09" stroke="#17548f" stroke-width="1.3"/>
<line x1="316.60" y1="399.13" x2="328.70" y2="399.13" stroke="#c8102e" stroke-width="1.3"/>
<line x1="274.50" y1="397.44" x2="286.50" y2="397.44" stroke="#17548f" stroke-width="1.3"/>
<line x1="274.50" y1="410.96" x2="286.50" y2="410.96" stroke="#c8102e" stroke-width="1.3"/>
<circle cx="352.00" cy="355.50" r="1.2" fill="#c8102e"/>
<text x="357.00" y="357.60" font-size="7.3" textLength="131.30" lengthAdjust="spacingAndGlyphs" stroke="#1a1a1a"><tspan font-style="italic">Ms4a3</tspan><tspan baseline-shift="42%" font-size="74%">+/+ or +/–</tspan><tspan font-style="italic">;Scl-tTA</tspan><tspan baseline-shift="42%" font-size="74%">+</tspan><tspan font-style="italic">;TRE-BCR-ABL1</tspan><tspan baseline-shift="42%" font-size="74%">+</tspan></text>
<circle cx="352.00" cy="364.00" r="1.2" fill="#17548f"/>
<text x="357.00" y="366.30" font-size="7.3" textLength="114.30" lengthAdjust="spacingAndGlyphs" stroke="#1a1a1a"><tspan font-style="italic">Ms4a3</tspan><tspan baseline-shift="42%" font-size="74%">–/–</tspan><tspan font-style="italic">;Scl-tTA</tspan><tspan baseline-shift="42%" font-size="74%">+</tspan><tspan font-style="italic">;TRE-BCR-ABL1</tspan><tspan baseline-shift="42%" font-size="74%">+</tspan></text>
<line x1="351.20" y1="374.80" x2="363.00" y2="374.80" stroke="#c8102e" stroke-width="1.3"/>
<text x="367.00" y="377.20" font-size="7.4" textLength="28.00" lengthAdjust="spacingAndGlyphs" stroke="#1a1a1a">Average</text>
<line x1="351.20" y1="383.00" x2="363.00" y2="383.00" stroke="#17548f" stroke-width="1.3"/>
<text x="367.00" y="385.40" font-size="7.4" textLength="28.00" lengthAdjust="spacingAndGlyphs" stroke="#1a1a1a">Average</text>
<text x="7.50" y="466.30" font-size="11.2" font-weight="bold" fill="#000" stroke="#000">H</text>
<line x1="40.60" y1="472.00" x2="40.60" y2="552.05" stroke="#333" stroke-width="1.7"/>
<line x1="37.60" y1="551.20" x2="40.60" y2="551.20" stroke="#333" stroke-width="1.1"/>
<text x="35.80" y="554.50" font-size="8.8" text-anchor="end" textLength="10.40" lengthAdjust="spacingAndGlyphs" stroke="#1a1a1a">0.1</text>
<line x1="37.60" y1="532.60" x2="40.60" y2="532.60" stroke="#333" stroke-width="1.1"/>
<text x="35.80" y="535.90" font-size="8.8" text-anchor="end" textLength="4.16" lengthAdjust="spacingAndGlyphs" stroke="#1a1a1a">1</text>
<line x1="37.60" y1="514.00" x2="40.60" y2="514.00" stroke="#333" stroke-width="1.1"/>
<text x="35.80" y="517.30" font-size="8.8" text-anchor="end" textLength="8.32" lengthAdjust="spacingAndGlyphs" stroke="#1a1a1a">10</text>
<line x1="37.60" y1="495.40" x2="40.60" y2="495.40" stroke="#333" stroke-width="1.1"/>
<text x="35.80" y="498.70" font-size="8.8" text-anchor="end" textLength="12.48" lengthAdjust="spacingAndGlyphs" stroke="#1a1a1a">100</text>
<line x1="37.60" y1="476.80" x2="40.60" y2="476.80" stroke="#333" stroke-width="1.1"/>
<text x="35.80" y="480.10" font-size="8.8" text-anchor="end" textLength="16.64" lengthAdjust="spacingAndGlyphs" stroke="#1a1a1a">1000</text>
<line x1="40.60" y1="551.20" x2="141.10" y2="551.20" stroke="#111" stroke-width="1.3"/>
<line x1="46.20" y1="551.20" x2="46.20" y2="553.70" stroke="#333" stroke-width="1.1"/>
<line x1="56.07" y1="551.20" x2="56.07" y2="553.70" stroke="#333" stroke-width="1.1"/>
<line x1="65.94" y1="551.20" x2="65.94" y2="553.70" stroke="#333" stroke-width="1.1"/>
<line x1="75.81" y1="551.20" x2="75.81" y2="553.70" stroke="#333" stroke-width="1.1"/>
<line x1="85.68" y1="551.20" x2="85.68" y2="553.70" stroke="#333" stroke-width="1.1"/>
<line x1="95.55" y1="551.20" x2="95.55" y2="553.70" stroke="#333" stroke-width="1.1"/>
<line x1="105.42" y1="551.20" x2="105.42" y2="553.70" stroke="#333" stroke-width="1.1"/>
<line x1="115.29" y1="551.20" x2="115.29" y2="553.70" stroke="#333" stroke-width="1.1"/>
<line x1="125.16" y1="551.20" x2="125.16" y2="553.70" stroke="#333" stroke-width="1.1"/>
<line x1="135.03" y1="551.20" x2="135.03" y2="553.70" stroke="#333" stroke-width="1.1"/>
<rect x="42.30" y="521.40" width="3.60" height="29.80" fill="#c8102e"/>
<rect x="46.60" y="521.40" width="3.60" height="29.80" fill="#17548f"/>
<rect x="52.17" y="514.00" width="3.60" height="37.20" fill="#c8102e"/>
<rect x="56.47" y="514.00" width="3.60" height="37.20" fill="#17548f"/>
<rect x="62.04" y="479.50" width="3.60" height="71.70" fill="#c8102e"/>
<rect x="66.34" y="479.50" width="3.60" height="71.70" fill="#17548f"/>
<rect x="71.91" y="514.60" width="3.60" height="36.60" fill="#c8102e"/>
<rect x="76.21" y="514.60" width="3.60" height="36.60" fill="#17548f"/>
<rect x="81.78" y="516.10" width="3.60" height="35.10" fill="#c8102e"/>
<rect x="86.08" y="516.10" width="3.60" height="35.10" fill="#17548f"/>
<rect x="91.65" y="537.30" width="3.60" height="13.90" fill="#c8102e"/>
<rect x="95.95" y="536.40" width="3.60" height="14.80" fill="#17548f"/>
<rect x="101.52" y="529.90" width="3.60" height="21.30" fill="#c8102e"/>
<rect x="105.82" y="529.90" width="3.60" height="21.30" fill="#17548f"/>
<rect x="111.39" y="497.50" width="3.60" height="53.70" fill="#c8102e"/>
<rect x="115.69" y="497.50" width="3.60" height="53.70" fill="#17548f"/>
<rect x="121.26" y="519.30" width="3.60" height="31.90" fill="#c8102e"/>
<rect x="125.56" y="518.40" width="3.60" height="32.80" fill="#17548f"/>
<rect x="131.13" y="510.20" width="3.60" height="41.00" fill="#c8102e"/>
<rect x="135.43" y="510.20" width="3.60" height="41.00" fill="#17548f"/>
<text x="48.40" y="559.60" font-size="7.2" text-anchor="end" textLength="37.16" lengthAdjust="spacingAndGlyphs" stroke="#1a1a1a" transform="rotate(-45 48.40 559.60)">Age (months)</text>
<text x="58.27" y="559.60" font-size="7.2" text-anchor="end" textLength="13.07" lengthAdjust="spacingAndGlyphs" stroke="#1a1a1a" transform="rotate(-45 58.27 559.60)">RBC</text>
<text x="68.14" y="559.60" font-size="7.2" text-anchor="end" textLength="10.90" lengthAdjust="spacingAndGlyphs" stroke="#1a1a1a" transform="rotate(-45 68.14 559.60)">PLT</text>
<text x="78.01" y="559.60" font-size="7.2" text-anchor="end" textLength="14.45" lengthAdjust="spacingAndGlyphs" stroke="#1a1a1a" transform="rotate(-45 78.01 559.60)">WBC</text>
<text x="87.88" y="559.60" font-size="7.2" text-anchor="end" textLength="12.27" lengthAdjust="spacingAndGlyphs" stroke="#1a1a1a" transform="rotate(-45 87.88 559.60)">LYM</text>
<text x="97.75" y="559.60" font-size="7.2" text-anchor="end" textLength="19.26" lengthAdjust="spacingAndGlyphs" stroke="#1a1a1a" transform="rotate(-45 97.75 559.60)">MONO</text>
<text x="107.62" y="559.60" font-size="7.2" text-anchor="end" textLength="17.89" lengthAdjust="spacingAndGlyphs" stroke="#1a1a1a" transform="rotate(-45 107.62 559.60)">GRAN</text>
<text x="117.49" y="559.60" font-size="7.2" text-anchor="end" textLength="19.50" lengthAdjust="spacingAndGlyphs" stroke="#1a1a1a" transform="rotate(-45 117.49 559.60)">LYM %</text>
<text x="127.36" y="559.60" font-size="7.2" text-anchor="end" textLength="26.49" lengthAdjust="spacingAndGlyphs" stroke="#1a1a1a" transform="rotate(-45 127.36 559.60)">MONO %</text>
<text x="137.23" y="559.60" font-size="7.2" text-anchor="end" textLength="25.12" lengthAdjust="spacingAndGlyphs" stroke="#1a1a1a" transform="rotate(-45 137.23 559.60)">GRAN %</text>
<text x="18.50" y="512.50" font-size="10" text-anchor="middle" textLength="22.70" lengthAdjust="spacingAndGlyphs" stroke="#1a1a1a" transform="rotate(-90 18.50 512.50)">Counts</text>
<text x="91.20" y="473.80" font-size="10.6" text-anchor="middle" textLength="45.50" lengthAdjust="spacingAndGlyphs" stroke="#1a1a1a">Adult mice</text>
<rect x="129.40" y="484.20" width="7.40" height="3.70" fill="#c8102e"/>
<text x="139.80" y="488.40" font-size="7.9" textLength="28.50" lengthAdjust="spacingAndGlyphs" stroke="#1a1a1a">Ms4a3<tspan baseline-shift="42%" font-size="74%">+/+</tspan></text>
<rect x="129.40" y="493.50" width="7.40" height="3.70" fill="#17548f"/>
<text x="139.80" y="498.00" font-size="7.9" textLength="28.50" lengthAdjust="spacingAndGlyphs" stroke="#1a1a1a">Ms4a3<tspan baseline-shift="42%" font-size="74%">–/–</tspan></text>
<text x="188.60" y="466.30" font-size="11.2" font-weight="bold" fill="#000" stroke="#000">I</text>
<line x1="214.20" y1="472.00" x2="214.20" y2="552.05" stroke="#333" stroke-width="1.7"/>
<line x1="211.20" y1="551.20" x2="214.20" y2="551.20" stroke="#333" stroke-width="1.1"/>
<text x="209.40" y="554.50" font-size="8.8" text-anchor="end" textLength="10.40" lengthAdjust="spacingAndGlyphs" stroke="#1a1a1a">0.1</text>
<line x1="211.20" y1="532.60" x2="214.20" y2="532.60" stroke="#333" stroke-width="1.1"/>
<text x="209.40" y="535.90" font-size="8.8" text-anchor="end" textLength="4.16" lengthAdjust="spacingAndGlyphs" stroke="#1a1a1a">1</text>
<line x1="211.20" y1="514.00" x2="214.20" y2="514.00" stroke="#333" stroke-width="1.1"/>
<text x="209.40" y="517.30" font-size="8.8" text-anchor="end" textLength="8.32" lengthAdjust="spacingAndGlyphs" stroke="#1a1a1a">10</text>
<line x1="211.20" y1="495.40" x2="214.20" y2="495.40" stroke="#333" stroke-width="1.1"/>
<text x="209.40" y="498.70" font-size="8.8" text-anchor="end" textLength="12.48" lengthAdjust="spacingAndGlyphs" stroke="#1a1a1a">100</text>
<line x1="211.20" y1="476.80" x2="214.20" y2="476.80" stroke="#333" stroke-width="1.1"/>
<text x="209.40" y="480.10" font-size="8.8" text-anchor="end" textLength="16.64" lengthAdjust="spacingAndGlyphs" stroke="#1a1a1a">1000</text>
<line x1="214.20" y1="551.20" x2="324.70" y2="551.20" stroke="#111" stroke-width="1.3"/>
<line x1="220.40" y1="551.20" x2="220.40" y2="553.70" stroke="#333" stroke-width="1.1"/>
<line x1="231.17" y1="551.20" x2="231.17" y2="553.70" stroke="#333" stroke-width="1.1"/>
<line x1="241.94" y1="551.20" x2="241.94" y2="553.70" stroke="#333" stroke-width="1.1"/>
<line x1="252.71" y1="551.20" x2="252.71" y2="553.70" stroke="#333" stroke-width="1.1"/>
<line x1="263.48" y1="551.20" x2="263.48" y2="553.70" stroke="#333" stroke-width="1.1"/>
<line x1="274.25" y1="551.20" x2="274.25" y2="553.70" stroke="#333" stroke-width="1.1"/>
<line x1="285.02" y1="551.20" x2="285.02" y2="553.70" stroke="#333" stroke-width="1.1"/>
<line x1="295.79" y1="551.20" x2="295.79" y2="553.70" stroke="#333" stroke-width="1.1"/>
<line x1="306.56" y1="551.20" x2="306.56" y2="553.70" stroke="#333" stroke-width="1.1"/>
<line x1="317.33" y1="551.20" x2="317.33" y2="553.70" stroke="#333" stroke-width="1.1"/>
<rect x="216.50" y="512.20" width="3.60" height="39.00" fill="#c8102e"/>
<rect x="220.80" y="511.10" width="3.60" height="40.10" fill="#17548f"/>
<rect x="227.27" y="514.30" width="3.60" height="36.90" fill="#c8102e"/>
<rect x="231.57" y="514.30" width="3.60" height="36.90" fill="#17548f"/>
<rect x="238.04" y="479.70" width="3.60" height="71.50" fill="#c8102e"/>
<rect x="242.34" y="479.90" width="3.60" height="71.30" fill="#17548f"/>
<rect x="248.81" y="516.20" width="3.60" height="35.00" fill="#c8102e"/>
<rect x="253.11" y="513.40" width="3.60" height="37.80" fill="#17548f"/>
<rect x="259.58" y="518.00" width="3.60" height="33.20" fill="#c8102e"/>
<rect x="263.88" y="515.70" width="3.60" height="35.50" fill="#17548f"/>
<rect x="270.35" y="540.90" width="3.60" height="10.30" fill="#c8102e"/>
<rect x="274.65" y="536.90" width="3.60" height="14.30" fill="#17548f"/>
<rect x="281.12" y="530.50" width="3.60" height="20.70" fill="#c8102e"/>
<rect x="285.42" y="526.50" width="3.60" height="24.70" fill="#17548f"/>
<rect x="291.89" y="497.70" width="3.60" height="53.50" fill="#c8102e"/>
<rect x="296.19" y="498.20" width="3.60" height="53.00" fill="#17548f"/>
<rect x="302.66" y="520.80" width="3.60" height="30.40" fill="#c8102e"/>
<rect x="306.96" y="518.90" width="3.60" height="32.30" fill="#17548f"/>
<rect x="313.43" y="509.70" width="3.60" height="41.50" fill="#c8102e"/>
<rect x="317.73" y="508.30" width="3.60" height="42.90" fill="#17548f"/>
<text x="222.60" y="559.60" font-size="7.2" text-anchor="end" textLength="37.16" lengthAdjust="spacingAndGlyphs" stroke="#1a1a1a" transform="rotate(-45 222.60 559.60)">Age (months)</text>
<text x="233.37" y="559.60" font-size="7.2" text-anchor="end" textLength="13.07" lengthAdjust="spacingAndGlyphs" stroke="#1a1a1a" transform="rotate(-45 233.37 559.60)">RBC</text>
<text x="244.14" y="559.60" font-size="7.2" text-anchor="end" textLength="10.90" lengthAdjust="spacingAndGlyphs" stroke="#1a1a1a" transform="rotate(-45 244.14 559.60)">PLT</text>
<text x="254.91" y="559.60" font-size="7.2" text-anchor="end" textLength="14.45" lengthAdjust="spacingAndGlyphs" stroke="#1a1a1a" transform="rotate(-45 254.91 559.60)">WBC</text>
<text x="265.68" y="559.60" font-size="7.2" text-anchor="end" textLength="12.27" lengthAdjust="spacingAndGlyphs" stroke="#1a1a1a" transform="rotate(-45 265.68 559.60)">LYM</text>
<text x="276.45" y="559.60" font-size="7.2" text-anchor="end" textLength="19.26" lengthAdjust="spacingAndGlyphs" stroke="#1a1a1a" transform="rotate(-45 276.45 559.60)">MONO</text>
<text x="287.22" y="559.60" font-size="7.2" text-anchor="end" textLength="17.89" lengthAdjust="spacingAndGlyphs" stroke="#1a1a1a" transform="rotate(-45 287.22 559.60)">GRAN</text>
<text x="297.99" y="559.60" font-size="7.2" text-anchor="end" textLength="19.50" lengthAdjust="spacingAndGlyphs" stroke="#1a1a1a" transform="rotate(-45 297.99 559.60)">LYM %</text>
<text x="308.76" y="559.60" font-size="7.2" text-anchor="end" textLength="26.49" lengthAdjust="spacingAndGlyphs" stroke="#1a1a1a" transform="rotate(-45 308.76 559.60)">MONO %</text>
<text x="319.53" y="559.60" font-size="7.2" text-anchor="end" textLength="25.12" lengthAdjust="spacingAndGlyphs" stroke="#1a1a1a" transform="rotate(-45 319.53 559.60)">GRAN %</text>
<text x="193.00" y="512.50" font-size="10" text-anchor="middle" textLength="22.70" lengthAdjust="spacingAndGlyphs" stroke="#1a1a1a" transform="rotate(-90 193.00 512.50)">Counts</text>
<text x="269.50" y="473.80" font-size="10.6" text-anchor="middle" textLength="45.50" lengthAdjust="spacingAndGlyphs" stroke="#1a1a1a">Aged mice</text>
<rect x="318.60" y="484.20" width="7.40" height="3.70" fill="#c8102e"/>
<text x="328.70" y="488.40" font-size="7.9" textLength="28.50" lengthAdjust="spacingAndGlyphs" stroke="#1a1a1a">Ms4a3<tspan baseline-shift="42%" font-size="74%">+/+</tspan></text>
<rect x="318.60" y="493.50" width="7.40" height="3.70" fill="#17548f"/>
<text x="328.70" y="498.00" font-size="7.9" textLength="28.50" lengthAdjust="spacingAndGlyphs" stroke="#1a1a1a">Ms4a3<tspan baseline-shift="42%" font-size="74%">–/–</tspan></text>
<text x="375.80" y="466.30" font-size="11.2" font-weight="bold" fill="#000" stroke="#000">J</text>
<line x1="397.10" y1="472.00" x2="397.10" y2="552.15" stroke="#333" stroke-width="1.7"/>
<line x1="394.50" y1="551.30" x2="397.10" y2="551.30" stroke="#333" stroke-width="1.1"/>
<text x="393.90" y="553.55" font-size="6.0" text-anchor="end" textLength="7.92" lengthAdjust="spacingAndGlyphs" fill="#555" stroke="#555">0.0</text>
<line x1="394.50" y1="536.60" x2="397.10" y2="536.60" stroke="#333" stroke-width="1.1"/>
<text x="393.90" y="538.85" font-size="6.0" text-anchor="end" textLength="7.92" lengthAdjust="spacingAndGlyphs" fill="#555" stroke="#555">0.5</text>
<line x1="394.50" y1="521.90" x2="397.10" y2="521.90" stroke="#333" stroke-width="1.1"/>
<text x="393.90" y="524.15" font-size="6.0" text-anchor="end" textLength="7.92" lengthAdjust="spacingAndGlyphs" fill="#555" stroke="#555">1.0</text>
<line x1="394.50" y1="507.20" x2="397.10" y2="507.20" stroke="#333" stroke-width="1.1"/>
<text x="393.90" y="509.45" font-size="6.0" text-anchor="end" textLength="7.92" lengthAdjust="spacingAndGlyphs" fill="#555" stroke="#555">1.5</text>
<line x1="394.50" y1="492.50" x2="397.10" y2="492.50" stroke="#333" stroke-width="1.1"/>
<text x="393.90" y="494.75" font-size="6.0" text-anchor="end" textLength="7.92" lengthAdjust="spacingAndGlyphs" fill="#555" stroke="#555">2.0</text>
<line x1="394.50" y1="477.80" x2="397.10" y2="477.80" stroke="#333" stroke-width="1.1"/>
<text x="393.90" y="480.05" font-size="6.0" text-anchor="end" textLength="7.92" lengthAdjust="spacingAndGlyphs" fill="#555" stroke="#555">2.5</text>
<line x1="397.10" y1="551.30" x2="507.60" y2="551.30" stroke="#111" stroke-width="1.3"/>
<line x1="403.80" y1="551.30" x2="403.80" y2="553.80" stroke="#333" stroke-width="1.1"/>
<line x1="418.10" y1="551.30" x2="418.10" y2="553.80" stroke="#333" stroke-width="1.1"/>
<line x1="431.50" y1="551.30" x2="431.50" y2="553.80" stroke="#333" stroke-width="1.1"/>
<line x1="445.30" y1="551.30" x2="445.30" y2="553.80" stroke="#333" stroke-width="1.1"/>
<line x1="458.50" y1="551.30" x2="458.50" y2="553.80" stroke="#333" stroke-width="1.1"/>
<line x1="472.30" y1="551.30" x2="472.30" y2="553.80" stroke="#333" stroke-width="1.1"/>
<line x1="485.50" y1="551.30" x2="485.50" y2="553.80" stroke="#333" stroke-width="1.1"/>
<line x1="498.90" y1="551.30" x2="498.90" y2="553.80" stroke="#333" stroke-width="1.1"/>
<rect x="399.10" y="492.40" width="4.60" height="58.90" fill="#c8102e"/>
<rect x="404.60" y="494.70" width="4.60" height="56.60" fill="#17548f"/>
<line x1="401.40" y1="485.70" x2="401.40" y2="492.40" stroke="#c8102e" stroke-width="0.9"/>
<line x1="400.10" y1="485.70" x2="402.70" y2="485.70" stroke="#c8102e" stroke-width="0.9"/>
<line x1="406.90" y1="491.50" x2="406.90" y2="494.70" stroke="#17548f" stroke-width="0.9"/>
<line x1="405.60" y1="491.50" x2="408.20" y2="491.50" stroke="#17548f" stroke-width="0.9"/>
<rect x="413.40" y="541.50" width="4.60" height="9.80" fill="#c8102e"/>
<rect x="418.90" y="541.10" width="4.60" height="10.20" fill="#17548f"/>
<line x1="415.70" y1="540.50" x2="415.70" y2="541.50" stroke="#c8102e" stroke-width="0.9"/>
<line x1="414.40" y1="540.50" x2="417.00" y2="540.50" stroke="#c8102e" stroke-width="0.9"/>
<line x1="421.20" y1="540.50" x2="421.20" y2="541.10" stroke="#17548f" stroke-width="0.9"/>
<line x1="419.90" y1="540.50" x2="422.50" y2="540.50" stroke="#17548f" stroke-width="0.9"/>
<rect x="426.80" y="524.90" width="4.60" height="26.40" fill="#c8102e"/>
<rect x="432.30" y="525.40" width="4.60" height="25.90" fill="#17548f"/>
<line x1="429.10" y1="521.20" x2="429.10" y2="524.90" stroke="#c8102e" stroke-width="0.9"/>
<line x1="427.80" y1="521.20" x2="430.40" y2="521.20" stroke="#c8102e" stroke-width="0.9"/>
<line x1="434.60" y1="524.00" x2="434.60" y2="525.40" stroke="#17548f" stroke-width="0.9"/>
<line x1="433.30" y1="524.00" x2="435.90" y2="524.00" stroke="#17548f" stroke-width="0.9"/>
<rect x="440.60" y="536.20" width="4.60" height="15.10" fill="#c8102e"/>
<rect x="446.10" y="537.20" width="4.60" height="14.10" fill="#17548f"/>
<line x1="442.90" y1="535.30" x2="442.90" y2="536.20" stroke="#c8102e" stroke-width="0.9"/>
<line x1="441.60" y1="535.30" x2="444.20" y2="535.30" stroke="#c8102e" stroke-width="0.9"/>
<line x1="448.40" y1="535.30" x2="448.40" y2="537.20" stroke="#17548f" stroke-width="0.9"/>
<line x1="447.10" y1="535.30" x2="449.70" y2="535.30" stroke="#17548f" stroke-width="0.9"/>
<rect x="453.80" y="536.90" width="4.60" height="14.40" fill="#c8102e"/>
<rect x="459.30" y="537.40" width="4.60" height="13.90" fill="#17548f"/>
<line x1="456.10" y1="536.00" x2="456.10" y2="536.90" stroke="#c8102e" stroke-width="0.9"/>
<line x1="454.80" y1="536.00" x2="457.40" y2="536.00" stroke="#c8102e" stroke-width="0.9"/>
<line x1="461.60" y1="536.00" x2="461.60" y2="537.40" stroke="#17548f" stroke-width="0.9"/>
<line x1="460.30" y1="536.00" x2="462.90" y2="536.00" stroke="#17548f" stroke-width="0.9"/>
<rect x="467.60" y="550.60" width="4.60" height="0.70" fill="#c8102e"/>
<rect x="473.10" y="550.80" width="4.60" height="0.50" fill="#17548f"/>
<rect x="480.80" y="542.70" width="4.60" height="8.60" fill="#c8102e"/>
<rect x="486.30" y="543.20" width="4.60" height="8.10" fill="#17548f"/>
<line x1="483.10" y1="542.00" x2="483.10" y2="542.70" stroke="#c8102e" stroke-width="0.9"/>
<line x1="481.80" y1="542.00" x2="484.40" y2="542.00" stroke="#c8102e" stroke-width="0.9"/>
<line x1="488.60" y1="541.10" x2="488.60" y2="543.20" stroke="#17548f" stroke-width="0.9"/>
<line x1="487.30" y1="541.10" x2="489.90" y2="541.10" stroke="#17548f" stroke-width="0.9"/>
<rect x="494.20" y="547.50" width="4.60" height="3.80" fill="#c8102e"/>
<rect x="499.70" y="548.00" width="4.60" height="3.30" fill="#17548f"/>
<line x1="496.50" y1="547.00" x2="496.50" y2="547.50" stroke="#c8102e" stroke-width="0.9"/>
<line x1="495.20" y1="547.00" x2="497.80" y2="547.00" stroke="#c8102e" stroke-width="0.9"/>
<line x1="502.00" y1="547.50" x2="502.00" y2="548.00" stroke="#17548f" stroke-width="0.9"/>
<line x1="500.70" y1="547.50" x2="503.30" y2="547.50" stroke="#17548f" stroke-width="0.9"/>
<text x="406.00" y="560.20" font-size="7.0" text-anchor="end" textLength="36.00" lengthAdjust="spacingAndGlyphs" stroke="#1a1a1a" transform="rotate(-45 406.00 560.20)">Lin<tspan baseline-shift="42%" font-size="74%">–</tspan>Kit<tspan baseline-shift="42%" font-size="74%">+</tspan>Sca1<tspan baseline-shift="42%" font-size="74%">+</tspan></text>
<text x="420.30" y="560.20" font-size="7.0" text-anchor="end" textLength="13.38" lengthAdjust="spacingAndGlyphs" stroke="#1a1a1a" transform="rotate(-45 420.30 560.20)">CMP</text>
<text x="433.70" y="560.20" font-size="7.0" text-anchor="end" textLength="13.71" lengthAdjust="spacingAndGlyphs" stroke="#1a1a1a" transform="rotate(-45 433.70 560.20)">GMP</text>
<text x="447.50" y="560.20" font-size="7.0" text-anchor="end" textLength="13.05" lengthAdjust="spacingAndGlyphs" stroke="#1a1a1a" transform="rotate(-45 447.50 560.20)">MEP</text>
<text x="460.70" y="560.20" font-size="7.0" text-anchor="end" textLength="11.38" lengthAdjust="spacingAndGlyphs" stroke="#1a1a1a" transform="rotate(-45 460.70 560.20)">LSK</text>
<text x="474.50" y="560.20" font-size="7.0" text-anchor="end" textLength="20.96" lengthAdjust="spacingAndGlyphs" stroke="#1a1a1a" transform="rotate(-45 474.50 560.20)">LT-HSC</text>
<text x="487.70" y="560.20" font-size="7.0" text-anchor="end" textLength="13.05" lengthAdjust="spacingAndGlyphs" stroke="#1a1a1a" transform="rotate(-45 487.70 560.20)">MPP</text>
<text x="501.10" y="560.20" font-size="7.0" text-anchor="end" textLength="22.08" lengthAdjust="spacingAndGlyphs" stroke="#1a1a1a" transform="rotate(-45 501.10 560.20)">ST-HSC</text>
<text x="453.80" y="473.80" font-size="10.6" text-anchor="middle" textLength="56.80" lengthAdjust="spacingAndGlyphs" stroke="#1a1a1a">Bone marrow</text>
<text x="383.30" y="512.00" font-size="11" text-anchor="middle" textLength="43.50" lengthAdjust="spacingAndGlyphs" stroke="#1a1a1a" transform="rotate(-90 383.30 512.00)">% of live cells</text>
<rect x="471.80" y="484.20" width="7.40" height="3.70" fill="#c8102e"/>
<text x="482.00" y="488.40" font-size="7.9" textLength="28.50" lengthAdjust="spacingAndGlyphs" stroke="#1a1a1a">Ms4a3<tspan baseline-shift="42%" font-size="74%">+/+</tspan></text>
<rect x="471.80" y="493.50" width="7.40" height="3.70" fill="#17548f"/>
<text x="482.00" y="498.00" font-size="7.9" textLength="28.50" lengthAdjust="spacingAndGlyphs" stroke="#1a1a1a">Ms4a3<tspan baseline-shift="42%" font-size="74%">–/–</tspan></text>
<rect x="0.5" y="0.5" width="519" height="593" fill="none" stroke="#000" stroke-width="1"/>
</svg>
</body></html>
